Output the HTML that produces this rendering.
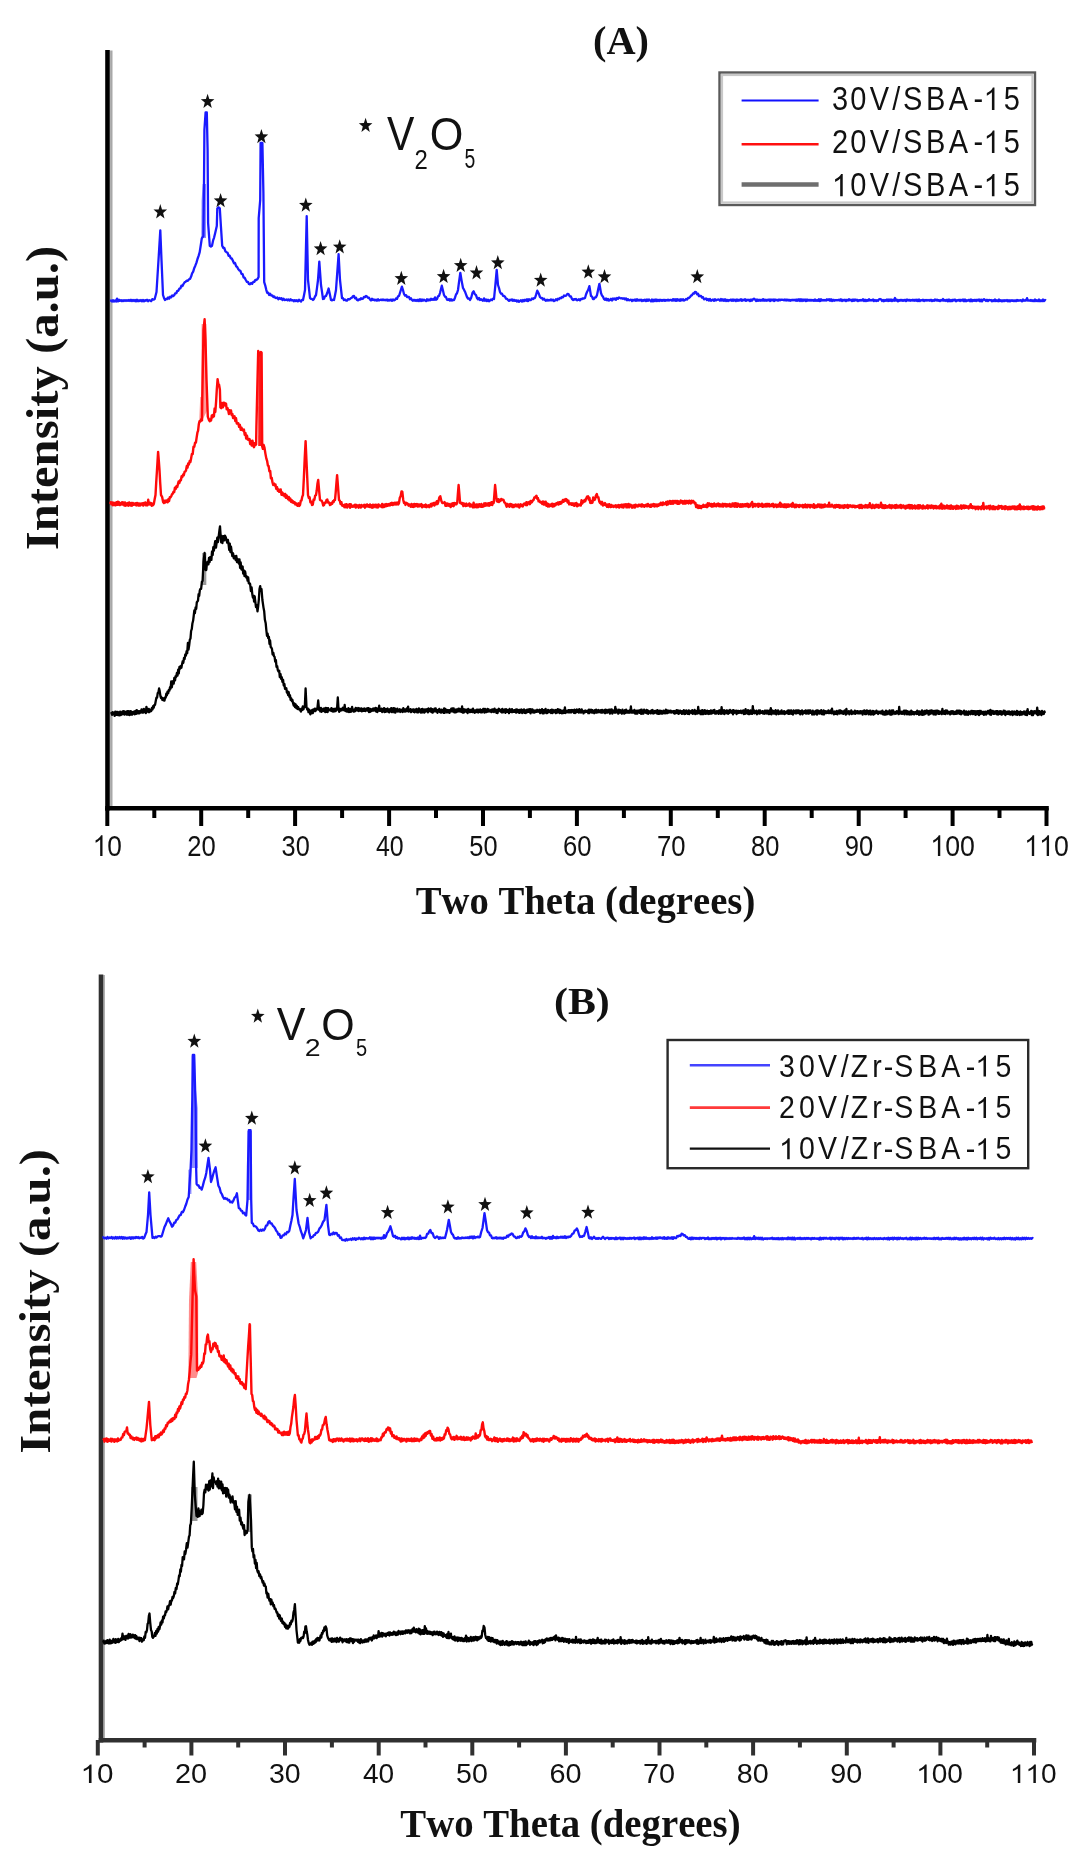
<!DOCTYPE html>
<html><head><meta charset="utf-8"><title>XRD patterns</title>
<style>
html,body{margin:0;padding:0;background:#fff;}
body{width:1078px;height:1866px;overflow:hidden;}
svg{display:block;filter:blur(0.45px);}
text{font-kerning:none;font-feature-settings:"kern" 0,"liga" 0;}
.sans{font-family:"Liberation Sans",sans-serif;}
.serif{font-family:"Liberation Serif",serif;font-weight:bold;}
</style></head><body>
<svg width="1078" height="1866" viewBox="0 0 1078 1866">
<rect width="1078" height="1866" fill="#fff"/>

<line x1="111.3" y1="50.5" x2="111.3" y2="806" stroke="#a8a8a8" stroke-width="2.4"/>
<line x1="104.1" y1="975" x2="104.1" y2="1738" stroke="#b0b0b0" stroke-width="1.8"/>
<g fill="none" stroke="#000" stroke-linecap="butt">
<line x1="107.5" y1="50" x2="107.5" y2="810.4" stroke-width="4.6"/>
<line x1="105.2" y1="808.2" x2="1048.8" y2="808.2" stroke-width="4.4"/>
<line x1="107.3" y1="808" x2="107.3" y2="826" stroke-width="4.0"/>
<line x1="154.3" y1="808" x2="154.3" y2="818" stroke-width="4.0"/>
<line x1="201.2" y1="808" x2="201.2" y2="826" stroke-width="4.0"/>
<line x1="248.2" y1="808" x2="248.2" y2="818" stroke-width="4.0"/>
<line x1="295.1" y1="808" x2="295.1" y2="826" stroke-width="4.0"/>
<line x1="342.1" y1="808" x2="342.1" y2="818" stroke-width="4.0"/>
<line x1="389.1" y1="808" x2="389.1" y2="826" stroke-width="4.0"/>
<line x1="436" y1="808" x2="436" y2="818" stroke-width="4.0"/>
<line x1="483" y1="808" x2="483" y2="826" stroke-width="4.0"/>
<line x1="529.9" y1="808" x2="529.9" y2="818" stroke-width="4.0"/>
<line x1="576.9" y1="808" x2="576.9" y2="826" stroke-width="4.0"/>
<line x1="623.9" y1="808" x2="623.9" y2="818" stroke-width="4.0"/>
<line x1="670.8" y1="808" x2="670.8" y2="826" stroke-width="4.0"/>
<line x1="717.8" y1="808" x2="717.8" y2="818" stroke-width="4.0"/>
<line x1="764.7" y1="808" x2="764.7" y2="826" stroke-width="4.0"/>
<line x1="811.7" y1="808" x2="811.7" y2="818" stroke-width="4.0"/>
<line x1="858.7" y1="808" x2="858.7" y2="826" stroke-width="4.0"/>
<line x1="905.6" y1="808" x2="905.6" y2="818" stroke-width="4.0"/>
<line x1="952.6" y1="808" x2="952.6" y2="826" stroke-width="4.0"/>
<line x1="999.5" y1="808" x2="999.5" y2="818" stroke-width="4.0"/>
<line x1="1046.5" y1="808" x2="1046.5" y2="826" stroke-width="4.0"/>
</g>
<g fill="#111">
<g transform="translate(92.70,855.91) scale(0.2628,0.2994)"><text class="sans" font-size="100" x="55.62" y="0">0</text><path d="M37.30,-0.00 37.30,-69.00 31.80,-69.00 29.20,-65.00 24.50,-60.30 18.50,-56.00 11.00,-52.30 11.00,-44.00 17.00,-46.80 23.20,-50.50 28.50,-54.50 28.50,-0.00Z"/></g>
<g transform="translate(187.33,855.91) scale(0.2561,0.2994)"><text class="sans" font-size="100" x="0.00 55.62" y="0">20</text></g>
<g transform="translate(281.58,855.91) scale(0.2531,0.2994)"><text class="sans" font-size="100" x="0.00 55.62" y="0">30</text></g>
<g transform="translate(375.89,855.91) scale(0.2495,0.2994)"><text class="sans" font-size="100" x="0.00 55.62" y="0">40</text></g>
<g transform="translate(469.36,855.91) scale(0.2536,0.2994)"><text class="sans" font-size="100" x="0.00 55.62" y="0">50</text></g>
<g transform="translate(563.00,855.91) scale(0.2562,0.2994)"><text class="sans" font-size="100" x="0.00 55.62" y="0">60</text></g>
<g transform="translate(656.91,855.91) scale(0.2564,0.2994)"><text class="sans" font-size="100" x="0.00 55.62" y="0">70</text></g>
<g transform="translate(751.03,855.91) scale(0.2544,0.2994)"><text class="sans" font-size="100" x="0.00 55.62" y="0">80</text></g>
<g transform="translate(844.86,855.91) scale(0.2553,0.2994)"><text class="sans" font-size="100" x="0.00 55.62" y="0">90</text></g>
<g transform="translate(930.29,855.91) scale(0.2672,0.2994)"><text class="sans" font-size="100" x="55.62 111.23" y="0">00</text><path d="M37.30,-0.00 37.30,-69.00 31.80,-69.00 29.20,-65.00 24.50,-60.30 18.50,-56.00 11.00,-52.30 11.00,-44.00 17.00,-46.80 23.20,-50.50 28.50,-54.50 28.50,-0.00Z"/></g>
<g transform="translate(1024.21,855.91) scale(0.2672,0.2994)"><text class="sans" font-size="100" x="111.23" y="0">0</text><path d="M37.30,-0.00 37.30,-69.00 31.80,-69.00 29.20,-65.00 24.50,-60.30 18.50,-56.00 11.00,-52.30 11.00,-44.00 17.00,-46.80 23.20,-50.50 28.50,-54.50 28.50,-0.00Z"/><path d="M92.92,-0.00 92.92,-69.00 87.42,-69.00 84.82,-65.00 80.12,-60.30 74.12,-56.00 66.62,-52.30 66.62,-44.00 72.62,-46.80 78.82,-50.50 84.12,-54.50 84.12,-0.00Z"/></g>
</g>
<g fill="none" stroke="#303030" stroke-linecap="butt">
<line x1="101" y1="974.5" x2="101" y2="1742.4" stroke-width="4.6"/>
<line x1="98.7" y1="1740.2" x2="1036.3" y2="1740.2" stroke-width="4.4"/>
<line x1="97.8" y1="1740" x2="97.8" y2="1755.5" stroke-width="4.0"/>
<line x1="144.6" y1="1740" x2="144.6" y2="1747.5" stroke-width="4.0"/>
<line x1="191.4" y1="1740" x2="191.4" y2="1755.5" stroke-width="4.0"/>
<line x1="238.2" y1="1740" x2="238.2" y2="1747.5" stroke-width="4.0"/>
<line x1="285" y1="1740" x2="285" y2="1755.5" stroke-width="4.0"/>
<line x1="331.9" y1="1740" x2="331.9" y2="1747.5" stroke-width="4.0"/>
<line x1="378.7" y1="1740" x2="378.7" y2="1755.5" stroke-width="4.0"/>
<line x1="425.5" y1="1740" x2="425.5" y2="1747.5" stroke-width="4.0"/>
<line x1="472.3" y1="1740" x2="472.3" y2="1755.5" stroke-width="4.0"/>
<line x1="519.1" y1="1740" x2="519.1" y2="1747.5" stroke-width="4.0"/>
<line x1="565.9" y1="1740" x2="565.9" y2="1755.5" stroke-width="4.0"/>
<line x1="612.7" y1="1740" x2="612.7" y2="1747.5" stroke-width="4.0"/>
<line x1="659.5" y1="1740" x2="659.5" y2="1755.5" stroke-width="4.0"/>
<line x1="706.3" y1="1740" x2="706.3" y2="1747.5" stroke-width="4.0"/>
<line x1="753.1" y1="1740" x2="753.1" y2="1755.5" stroke-width="4.0"/>
<line x1="799.9" y1="1740" x2="799.9" y2="1747.5" stroke-width="4.0"/>
<line x1="846.8" y1="1740" x2="846.8" y2="1755.5" stroke-width="4.0"/>
<line x1="893.6" y1="1740" x2="893.6" y2="1747.5" stroke-width="4.0"/>
<line x1="940.4" y1="1740" x2="940.4" y2="1755.5" stroke-width="4.0"/>
<line x1="987.2" y1="1740" x2="987.2" y2="1747.5" stroke-width="4.0"/>
<line x1="1034" y1="1740" x2="1034" y2="1755.5" stroke-width="4.0"/>
</g>
<g fill="#111">
<g transform="translate(80.50,1783.04) scale(0.2959,0.2684)"><text class="sans" font-size="100" x="55.62" y="0">0</text><path d="M37.30,-0.00 37.30,-69.00 31.80,-69.00 29.20,-65.00 24.50,-60.30 18.50,-56.00 11.00,-52.30 11.00,-44.00 17.00,-46.80 23.20,-50.50 28.50,-54.50 28.50,-0.00Z"/></g>
<g transform="translate(174.92,1783.04) scale(0.2884,0.2684)"><text class="sans" font-size="100" x="0.00 55.62" y="0">20</text></g>
<g transform="translate(268.90,1783.04) scale(0.2850,0.2684)"><text class="sans" font-size="100" x="0.00 55.62" y="0">30</text></g>
<g transform="translate(362.97,1783.04) scale(0.2809,0.2684)"><text class="sans" font-size="100" x="0.00 55.62" y="0">40</text></g>
<g transform="translate(456.09,1783.04) scale(0.2855,0.2684)"><text class="sans" font-size="100" x="0.00 55.62" y="0">50</text></g>
<g transform="translate(549.38,1783.04) scale(0.2885,0.2684)"><text class="sans" font-size="100" x="0.00 55.62" y="0">60</text></g>
<g transform="translate(642.99,1783.04) scale(0.2887,0.2684)"><text class="sans" font-size="100" x="0.00 55.62" y="0">70</text></g>
<g transform="translate(736.85,1783.04) scale(0.2865,0.2684)"><text class="sans" font-size="100" x="0.00 55.62" y="0">80</text></g>
<g transform="translate(830.36,1783.04) scale(0.2874,0.2684)"><text class="sans" font-size="100" x="0.00 55.62" y="0">90</text></g>
<g transform="translate(916.20,1783.04) scale(0.2801,0.2684)"><text class="sans" font-size="100" x="55.62 111.23" y="0">00</text><path d="M37.30,-0.00 37.30,-69.00 31.80,-69.00 29.20,-65.00 24.50,-60.30 18.50,-56.00 11.00,-52.30 11.00,-44.00 17.00,-46.80 23.20,-50.50 28.50,-54.50 28.50,-0.00Z"/></g>
<g transform="translate(1009.82,1783.04) scale(0.2801,0.2684)"><text class="sans" font-size="100" x="111.23" y="0">0</text><path d="M37.30,-0.00 37.30,-69.00 31.80,-69.00 29.20,-65.00 24.50,-60.30 18.50,-56.00 11.00,-52.30 11.00,-44.00 17.00,-46.80 23.20,-50.50 28.50,-54.50 28.50,-0.00Z"/><path d="M92.92,-0.00 92.92,-69.00 87.42,-69.00 84.82,-65.00 80.12,-60.30 74.12,-56.00 66.62,-52.30 66.62,-44.00 72.62,-46.80 78.82,-50.50 84.12,-54.50 84.12,-0.00Z"/></g>
</g>
<g fill="#111">
<text class="serif" font-size="100" transform="translate(415.70,914.00) scale(0.3870,0.4093)">Two Theta (degrees)</text>
<text class="serif" font-size="100" transform="translate(400.29,1837.40) scale(0.3879,0.4032)">Two Theta (degrees)</text>
<text class="serif" font-size="100" transform="translate(58.00,550.24) rotate(-90) scale(0.4870,0.4551)">Intensity (a.u.)</text>
<text class="serif" font-size="100" transform="translate(50.10,1453.64) rotate(-90) scale(0.4876,0.4536)">Intensity (a.u.)</text>
<text class="serif" font-size="100" transform="translate(593.03,53.60) scale(0.4030,0.3954)">(A)</text>
<text class="serif" font-size="100" transform="translate(553.96,1014.09) scale(0.4192,0.3710)">(B)</text>
</g>
<rect x="719.5" y="72.5" width="315.5" height="132.5" fill="#fff" stroke="#5a5a5a" stroke-width="2.4"/>
<rect x="722.0" y="75.0" width="310.5" height="127.5" fill="none" stroke="#c8c8c8" stroke-width="2.2"/>
<line x1="741.6" y1="100.5" x2="818.6" y2="100.5" stroke="#1010ff" stroke-width="2.2"/>
<line x1="741.6" y1="144.3" x2="818.6" y2="144.3" stroke="#ff1010" stroke-width="2.4"/>
<line x1="741.6" y1="184.5" x2="818.6" y2="184.5" stroke="#6e6e6e" stroke-width="4.4"/>
<g fill="#111">
<g transform="translate(0,110.00) scale(0.2900,0.3250)"><text class="sans" font-size="100" x="2868.69 2932.19 2999.06 3076.80 3114.26 3193.46 3271.82 3357.14 3461.26" y="0">30V/SBA-5</text><path d="M3429.16,-0.00 3429.16,-69.00 3423.66,-69.00 3421.06,-65.00 3416.36,-60.30 3410.36,-56.00 3402.86,-52.30 3402.86,-44.00 3408.86,-46.80 3415.06,-50.50 3420.36,-54.50 3420.36,-0.00Z"/></g>
<g transform="translate(0,153.00) scale(0.2900,0.3250)"><text class="sans" font-size="100" x="2868.69 2932.19 2999.06 3076.80 3114.26 3193.46 3271.82 3357.14 3461.26" y="0">20V/SBA-5</text><path d="M3429.16,-0.00 3429.16,-69.00 3423.66,-69.00 3421.06,-65.00 3416.36,-60.30 3410.36,-56.00 3402.86,-52.30 3402.86,-44.00 3408.86,-46.80 3415.06,-50.50 3420.36,-54.50 3420.36,-0.00Z"/></g>
<g transform="translate(0,196.30) scale(0.2900,0.3250)"><text class="sans" font-size="100" x="2932.19 2999.06 3076.80 3114.26 3193.46 3271.82 3357.14 3461.26" y="0">0V/SBA-5</text><path d="M2905.99,-0.00 2905.99,-69.00 2900.49,-69.00 2897.89,-65.00 2893.19,-60.30 2887.19,-56.00 2879.69,-52.30 2879.69,-44.00 2885.69,-46.80 2891.89,-50.50 2897.19,-54.50 2897.19,-0.00Z"/><path d="M3429.16,-0.00 3429.16,-69.00 3423.66,-69.00 3421.06,-65.00 3416.36,-60.30 3410.36,-56.00 3402.86,-52.30 3402.86,-44.00 3408.86,-46.80 3415.06,-50.50 3420.36,-54.50 3420.36,-0.00Z"/></g>
</g>
<rect x="667.6" y="1040.0" width="360.6" height="128.2" fill="#fff" stroke="#2a2a2a" stroke-width="2.4"/>
<line x1="689.8" y1="1065.2" x2="770" y2="1065.2" stroke="#4444ff" stroke-width="2.4"/>
<line x1="689.8" y1="1107.6" x2="770" y2="1107.6" stroke="#ff3a3a" stroke-width="2.6"/>
<line x1="689.8" y1="1148.6" x2="770" y2="1148.6" stroke="#111" stroke-width="2.2"/>
<g fill="#111">
<g transform="translate(0,1076.50) scale(0.2850,0.3050)"><text class="sans" font-size="100" x="2733.54 2803.42 2870.16 2949.62 2985.22 3060.86 3100.89 3137.90 3222.03 3302.44 3388.61 3492.99" y="0">30V/Zr-SBA-5</text><path d="M3459.70,-0.00 3459.70,-69.00 3454.20,-69.00 3451.60,-65.00 3446.90,-60.30 3440.90,-56.00 3433.40,-52.30 3433.40,-44.00 3439.40,-46.80 3445.60,-50.50 3450.90,-54.50 3450.90,-0.00Z"/></g>
<g transform="translate(0,1118.10) scale(0.2850,0.3050)"><text class="sans" font-size="100" x="2733.54 2803.42 2870.16 2949.62 2985.22 3060.86 3100.89 3137.90 3222.03 3302.44 3388.61 3492.99" y="0">20V/Zr-SBA-5</text><path d="M3459.70,-0.00 3459.70,-69.00 3454.20,-69.00 3451.60,-65.00 3446.90,-60.30 3440.90,-56.00 3433.40,-52.30 3433.40,-44.00 3439.40,-46.80 3445.60,-50.50 3450.90,-54.50 3450.90,-0.00Z"/></g>
<g transform="translate(0,1159.30) scale(0.2850,0.3050)"><text class="sans" font-size="100" x="2803.42 2870.16 2949.62 2985.22 3060.86 3100.89 3137.90 3222.03 3302.44 3388.61 3492.99" y="0">0V/Zr-SBA-5</text><path d="M2770.84,-0.00 2770.84,-69.00 2765.34,-69.00 2762.74,-65.00 2758.04,-60.30 2752.04,-56.00 2744.54,-52.30 2744.54,-44.00 2750.54,-46.80 2756.74,-50.50 2762.04,-54.50 2762.04,-0.00Z"/><path d="M3459.70,-0.00 3459.70,-69.00 3454.20,-69.00 3451.60,-65.00 3446.90,-60.30 3440.90,-56.00 3433.40,-52.30 3433.40,-44.00 3439.40,-46.80 3445.60,-50.50 3450.90,-54.50 3450.90,-0.00Z"/></g>
</g>
<g fill="#111">
<text class="sans" font-size="100" transform="translate(387.02,150.10) scale(0.4102,0.4738)">V</text>
<text class="sans" font-size="100" transform="translate(414.40,168.70) scale(0.2393,0.2821)">2</text>
<text class="sans" font-size="100" transform="translate(429.65,149.65) scale(0.4322,0.4562)">O</text>
<text class="sans" font-size="100" transform="translate(464.52,168.13) scale(0.1940,0.2780)">5</text>
<text class="sans" font-size="100" transform="translate(276.81,1040.10) scale(0.4300,0.4622)">V</text>
<text class="sans" font-size="100" transform="translate(304.76,1056.20) scale(0.2854,0.2392)">2</text>
<text class="sans" font-size="100" transform="translate(321.27,1039.66) scale(0.4292,0.4491)">O</text>
<text class="sans" font-size="100" transform="translate(355.90,1055.97) scale(0.2004,0.2393)">5</text>
</g>
<polygon points="201.3,238 201.6,200 202.6,184 206,184 206,238" fill="#8c8cff"/>
<path d="M110,300.8 111,300.5 112,301.6 113,300.2 114,301.5 115,300.5 116,301.6 117,298.6 118,301.5 119,299.8 120,300.9 121,300.1 122,301.2 123,300.2 124,301 125,300.1 126,301 127,300.1 128,300.8 129,300 130,301 131,299.8 132,301.1 133,299.9 134,301.1 135,299.9 136,301.3 137,299.7 138,301.2 139,300.2 140,301.1 141,300 142,301.3 143,300 144,301.4 145,300.1 146,300.7 147,299.8 148,301.2 149,300.2 150,300.5 151.2,301.1 152.3,299.1 153.5,299.7 154.7,299 156.5,292 157.5,275.9 158.5,260 160.3,230.3 161.5,260 163,295 164,297.9 165,300 166,298.8 167,299.1 168.1,297.5 169.1,298.7 170.1,296.7 171.1,297.3 172.2,295.4 173.2,296.1 174.2,295.2 175.2,293.4 176.3,293.2 177.3,290.8 178.3,290.8 179.4,288.6 180.4,288.4 181.4,285.6 182.5,286.1 183.5,284 184.6,282.3 185.7,281.7 186.8,280.7 187.8,280.9 188.9,279.4 190,279 191.1,276.6 192.1,273.4 193.2,271.6 194.3,267.9 195.3,265.7 196.4,262.9 197.5,259 198.6,255.9 199.7,252.2 200.8,245 201.8,238.3 203.4,236 204,184 204.4,130 205.6,112.3 206.8,112.5 207.6,150 208.1,223 209.8,245.8 210.9,246.6 212,245.8 213.1,240.4 214.1,237.6 215.2,232.9 216.8,226 217.3,208.3 218.6,207.3 219.8,208.3 220.9,226 222.2,245.8 223.3,248.1 224.3,247.9 225.4,251.3 226.5,252.2 227.6,252.8 228.6,255.8 229.7,255.7 230.8,258.4 231.8,258.4 232.9,260.8 234,263.4 235,262.9 236.1,266.2 237.2,267 238.2,269 239.3,270.4 240.4,270.9 241.5,273.9 242.6,274.1 243.6,277.4 244.7,277.9 245.8,280 246.9,281.8 247.9,281.8 248.9,284 250,284.3 251.1,283 252.2,283.8 253.2,282 254.3,281.9 255.4,279.9 256.5,280 257.6,278.9 258.6,277 258.7,218 260.2,200 260.6,143 262.4,143 263.4,193.2 264.2,282.2 265.2,285.3 266.2,289.6 267.2,292.9 268.2,292.7 269.2,295 270.2,293.8 271.2,295.5 272.3,295.4 273.3,297 274.3,296.4 275.3,297.8 276.3,298 277.3,297.5 278.3,299.3 279.4,298 280.4,299 281.4,298.1 282.4,300.1 283.5,298.7 284.5,300.1 285.5,299.8 286.5,299.5 287.6,300.3 288.6,299.4 289.6,300.6 290.7,299.3 291.7,300.4 292.8,300.1 293.8,301.3 294.8,300.1 295.9,301 296.9,300.3 297.9,301.4 299,299.8 300,300.8 301,301.5 302,299.9 303,300 304,295.2 305,290 306.7,216.2 308,280 309,288.8 310,298 311,298.8 312,298.9 313,300 314,298.9 315,296.5 316,295 317,287.8 318,280 319.3,261.6 321,285 322,291.9 323,299 324,298.7 325,296.4 326,296 327.3,292.8 328.6,288.5 329.8,294 331,300 332,300.4 333,299.6 334,300 335,295.2 336,290 337.3,272 338.6,254.2 340,280 341,289.1 342,298 343,298.2 344,300.1 345,299.5 346,300.5 347,300.7 348,299.1 349,299.5 350,299 351,298 352,297.7 353,296.1 354,296 355,298.2 356,297.8 357,300 358,300.4 359,299.4 360,299.7 361,298.2 362,299 363,298.7 364,296.9 365,297.2 366,296 367,296.6 368,297.9 369,297.7 370,299.5 371,300.5 372,298.8 373,300 374,299.4 375,300.5 376,299.6 377,300.7 378,299.3 379,300.5 380,300 381,299.6 382,300.2 383,299.5 384,300.2 385,299.7 386,300.4 387,299.5 388,300.7 389,299.8 390,300.6 391,299.5 392,300.8 393,299.4 394,300.3 395,300 396,298.4 397,298.9 398,296.3 399,296 400.4,291.5 401.9,286.7 402.9,289.8 404,294 405,295.6 406,295.1 407,297.1 408,297 409,297 410,299.2 411,298.3 412,300 413,300.7 414,299.7 415,300.8 416,300 417,301 418,299.6 419,301 420,299.3 421,301 422,299.5 423,300.7 424,299.6 425,300.5 426,301.1 427,299.3 428,300.6 429,299.5 430,300.3 431,298.8 432,299.9 433,299 434,299.8 435,297.4 436,299.7 437,299 438,296.3 439,295.9 440,293 441.8,285.7 442.9,290.2 444,295 445,296.6 446,297.1 447,299.6 448,300 449,299 450,300.6 451,299.2 452,300.5 453,299.8 454,300 455,297.7 456,294.5 457,293.2 458,290 459.1,281.3 460.3,272.8 461.6,280.6 463,288 464,289.7 465,291.7 466,294.3 467,297 468,298.5 469,298.3 470,300 471.2,297.7 472.5,292.8 473.7,291.3 474.8,294.2 475.9,294.9 477,298 478,299.4 479,297.9 480,300 481,299.2 482,300 483,300.7 484,298.4 485,300.7 486,299.4 487,301.1 488,299.6 489,301.2 490,300.5 491,299.4 492,300.2 493,298.7 494,299 495.4,284.6 496.7,269.9 498,285 499,288 500,292 501,293.7 502,293.6 503,295.9 504,296 505,296.7 506,298.6 507,298.8 508,300 509,300.9 510,299.7 511,300.4 512,299.4 513,300.9 514,299.8 515,300.9 516,300.3 517,301.6 518,300.4 519,301.7 520,301 521,300.2 522,301.6 523,300 524,301.2 525,299.7 526,300.8 527,299.3 528,301.1 529,299.2 530,300 531,300 532,298.4 533,299.1 534,298.1 535,298 536.1,294.7 537.3,290.7 538.6,293.2 540,297 541,298 542,297.9 543,299.6 544,298.6 545,300 546,300.8 547,299.7 548,300.6 549,300 550,300.4 551,299.4 552,300.5 553,299.6 554,301.1 555,300.5 556,299.2 557,300.3 558,298.7 559,299.2 560,297.9 561,298.3 562,297 563,297.3 564,295.5 565,296 566.2,295.6 567.4,293.9 568.6,294.2 569.7,296.3 570.9,296.5 572,299 573,300.1 574,299.1 575,299.7 576,298.9 577,300.3 578,300 579,299.2 580,300.4 581,298.9 582,299 583,298.3 584,298.5 585,298 586,294.5 587,292 588.2,289.8 589.4,286.1 591,296 592,296.5 593,299 594,299 595,297.3 596,297.3 597,295 598.2,289.2 599.4,283.8 601,293 602,295.6 603,296.8 604,299 605,299.7 606,298.4 607,300.2 608,298.9 609,300.6 610,300 611,298.8 612,300.5 613,298.5 614,299.4 615,298.4 616,299.8 617,298 618,298.7 619,297.4 620,298 621,298.4 622,298.2 623,298.8 624,298.3 625,299.4 626,298.4 627,300.3 628,299.1 629,300.4 630,300 631,299.6 632,301 633,299.8 634,300.6 635,299.4 636,300.9 637,299.3 638,300.6 639,299.8 640,300.5 641,299.6 642,301.1 643,299.9 644,300.8 645,299.6 646,301 647,299.5 648,300.9 649,299.5 650,300.5 651,301.4 652,299.5 653,301.4 654,299.6 655,301 656,299.4 657,301.1 658,299.8 659,301 660,299.7 661,300.8 662,299.9 663,300.8 664,299.8 665,300.9 666,299.9 667,300.5 668,299.7 669,300.6 670,300 671,299.8 672,300.7 673,299.1 674,300.5 675,299.2 676,300.9 677,299.1 678,300.5 679,299.4 680,300.8 681,299.2 682,300.4 683,299.2 684,300.6 685,300 686,298.9 687,299.6 688,298 689,298.1 690,297 691,295.6 692,295.1 693,293.5 694,293.7 695,291.9 696,292.1 697,294.2 698,293.7 699,296.2 700,296 701,295.9 702,297.6 703,297.1 704,299.4 705,299 706,298.4 707,300.1 708,299 709,300.5 710,299 711,300.8 712,300 713,299.5 714,300.8 715,299.2 716,300.4 717,299.8 718,299.5 719,299.6 720,300.7 721,299 722,300.6 723,299.3 724,300.8 725,299.3 726,301 727,299.8 728,301 729,299.9 730,300.6 731,299.5 732,300.9 733,299.4 734,300.7 735,299.6 736,301 737,299.4 738,300.8 739,299.7 740,300.6 741,299.2 742,300.8 743,299.6 744,300.4 745,299.1 746,300.9 747,299.6 748,300.4 749,299.6 750,301.1 751,299.5 752,300.7 753,299.3 754,298.6 755,299.4 756,301 757,299.5 758,300.9 759,299.7 760,300.8 761,299.8 762,300.7 763,299.1 764,300.7 765,299.6 766,300.8 767,299.7 768,300.6 769,299.4 770,301 771,299.5 772,300.5 773,299.4 774,301 775,299.5 776,300.4 777,299.7 778,300.7 779,299.5 780,300.4 781,299.5 782,299.8 783,299.7 784,300.3 785,299.4 786,300.6 787,299.5 788,300.5 789,299.8 790,300.8 791,299.9 792,300.4 793,299.7 794,300.3 795,299.6 796,300.8 797,299.4 798,300.7 799,299.2 800,301 801,299.3 802,301 803,299.4 804,300.7 805,299.5 806,301.1 807,299.5 808,300.7 809,299.8 810,300.8 811,299.8 812,300.7 813,299.9 814,300.9 815,299.5 816,300.9 817,300 818,300.9 819,299.2 820,301.1 821,299.3 822,300.6 823,299.9 824,300.6 825,299.9 826,300.6 827,299.3 828,300.3 829,299.2 830,300.7 831,299.3 832,301 833,299.7 834,300.7 835,300 836,300.4 837,300 838,300.4 839,299.6 840,300.6 841,299.3 842,301 843,299.8 844,300.6 845,299.7 846,301 847,299.8 848,300.6 849,299.2 850,300.4 851,299.7 852,301.1 853,299.5 854,300.8 855,299.5 856,300.5 857,299.7 858,301 859,300.1 860,300.7 861,299.9 862,300.5 863,299.2 864,301 865,299.7 866,301 867,299.9 868,300.8 869,299.3 870,300.5 871,300 872,300.5 873,299.4 874,301.1 875,300 876,301.1 877,300.1 878,300.9 879,299.3 880,299 881,299.3 882,301 883,299.9 884,301.2 885,300 886,300.8 887,299.4 888,301 889,299.5 890,300.9 891,299.5 892,301 893,299.6 894,300.8 895,298 896,300.7 897,299.8 898,301.3 899,299.9 900,300.8 901,299.8 902,300.8 903,300 904,300.7 905,299.7 906,301.1 907,299.5 908,300.6 909,299.8 910,300.8 911,300 912,300.6 913,299.7 914,300.8 915,299.7 916,300.8 917,299.6 918,301.1 919,299.5 920,301 921,300.1 922,300.5 923,299.8 924,301 925,299.9 926,300.7 927,299.9 928,300.5 929,300 930,300.7 931,299.7 932,301.1 933,300.1 934,300.8 935,299.4 936,300.6 937,299.6 938,300.7 939,300.1 940,301.1 941,299.9 942,300.6 943,299 944,300.7 945,299.9 946,301 947,299.7 948,301.3 949,299.5 950,301.2 951,300 952,301.2 953,299.7 954,300.6 955,299.5 956,301.3 957,300.1 958,300.6 959,299.8 960,301 961,299.8 962,300.7 963,299.5 964,301.2 965,299.5 966,301.2 967,300.1 968,300.8 969,299.8 970,301.2 971,299.4 972,301.3 973,299.9 974,300.9 975,299.8 976,301 977,299.7 978,300.7 979,299.5 980,301.3 981,299.6 982,301.4 983,299.8 984,299.2 985,300 986,301 987,299.8 988,301.1 989,299.9 990,300.3 991,300 992,301.3 993,300.2 994,301 995,299.4 996,301.1 997,300.2 998,301.3 999,299.5 1000,301.1 1001,300.2 1002,301.4 1003,300.2 1004,301.2 1005,300.1 1006,301 1007,300 1008,301.4 1009,300.2 1010,301.4 1011,300.2 1012,300.9 1013,300.3 1014,301.2 1015,300.3 1016,301.2 1017,299.9 1018,300.8 1019,300.2 1020,300.7 1021,300.1 1022,301.4 1023,299.5 1024,300.8 1025,300.3 1026,300.6 1027,298.1 1028,300.7 1029,300.3 1030,300.8 1031,299.9 1032,301 1033,300.2 1034,301.2 1035,299.5 1036,301 1037,300.3 1038,301.2 1039,299.5 1040,301.2 1041,300.3 1042,301.2 1043,299.5 1044,301.1 1045,299.9 1046,300.5" fill="none" stroke="#1a1aff" stroke-width="2.3" stroke-linejoin="round" opacity="1.0"/>
<polygon points="199.2,421 200.2,397 201.3,397 201.6,324 206.4,324 206.9,380 207.4,410 203,419 202.3,421" fill="#ff9a9a"/>
<polygon points="258.2,446 258.4,353 261.6,353 261.9,446" fill="#ff1a1a"/>
<path d="M110,503.9 110.7,502.2 111.4,504.3 112.1,502.4 112.9,505.2 113.6,502.7 114.3,505.1 115,503 115.7,505.3 116.4,502.2 117.1,504.9 117.9,501.6 118.6,504.7 119.3,502.3 120,505.1 120.7,503.6 121.4,504.4 122.1,502.2 122.9,504.5 123.6,502.5 124.3,505.6 125,502.5 125.7,505.7 126.4,503.5 127.1,505.3 127.9,502.9 128.6,505.7 129.3,502.5 130,504 130.7,505.6 131.4,503 132.1,505.7 132.8,503 133.5,504.8 134.2,503.5 134.9,504.7 135.6,503.3 136.3,505.4 137,502.9 137.7,505.2 138.4,503.4 139.1,505.7 139.8,503.6 140.5,505.4 141.2,503.4 141.9,504.4 142.6,503.3 143.3,505.6 144,502.9 144.7,504.6 145.4,502.4 146.1,505.4 146.8,503.2 147.5,505.3 148.2,499.8 148.9,504.3 149.6,502.5 150.3,504.6 151,503.1 151.7,505.8 152.4,503.7 153.1,505.2 153.8,504 154.7,499 155.5,495 156.2,482.6 157,470 158.1,451.9 158.8,460.4 159.5,470 160.2,482.9 161,495 162.1,496.8 163.1,502 163.9,503 164.7,500.7 165.4,502.4 166.2,500.4 167,502 167.7,502.3 168.4,499.1 169.1,501 169.8,497.1 170.5,497.4 171.2,496.4 172,494.3 172.7,493.8 173.5,491.7 174.2,492.1 174.9,487.7 175.7,489 176.4,486.3 177.2,487.1 177.9,484.4 178.6,481.5 179.4,482.9 180.1,480.2 180.9,480.3 181.6,476.2 182.3,477.1 183.1,474.5 183.8,475.3 184.6,471.8 185.3,471.4 186,470.5 186.8,465.9 187.5,467.7 188.2,463.4 188.9,464.5 189.7,460.9 190.4,462 191.1,458.4 191.9,453.9 192.7,454 193.5,446.7 194.3,446.7 195.1,442.6 195.9,442.5 196.7,437.1 197.4,432.7 198.1,430.6 198.8,424.3 199.5,421.3 200.3,421.6 201.2,419.3 202,420.4 202.3,397.2 203.5,330 204.6,319.3 205.5,340 206.5,379.6 207.8,416.7 208.8,419.6 209.7,421.3 210.4,419.2 211.1,420.4 211.8,415.4 212.5,417.4 213.2,414.8 213.9,416.4 214.6,408.5 215.3,412 216.1,401.7 216.8,389.6 217.6,379.1 218.4,384.5 219.1,384.9 219.9,389.8 220.4,407.4 221.2,408.2 222,402.9 222.9,407.4 223.7,402.6 224.5,402.8 225.2,405.5 226,403.5 226.7,409.3 227.5,408 228.2,410.2 228.9,414.1 229.6,410.3 230.3,413.3 231,410.4 231.7,415.1 232.4,414 233.1,418.1 233.8,416.7 234.5,416.2 235.3,421.1 236,418.2 236.8,423.6 237.5,423.2 238.3,423.2 239.1,426.9 239.9,424.9 240.7,429.8 241.5,427.7 242.3,430 243.1,430.6 243.9,429.4 244.7,434.9 245.5,433.2 246.2,438.5 247,435.7 247.8,439.7 248.6,439.9 249.4,438.9 250.2,444.1 250.9,440.8 251.7,445.5 252.5,440.6 253.3,445.4 254,447.2 254.7,443.1 255.4,445.2 256.1,444.5 256.4,427 257.3,388.8 258.2,351 259.1,355.6 260,353 260.8,351.9 261.6,352.7 262.2,446.4 262.9,448.8 263.7,445 264.4,447.3 265.4,453.6 266.3,458.4 267.1,460.8 267.9,465.6 268.6,466 269.4,471.2 270.2,470.9 270.9,478.4 271.7,477.8 272.5,482.5 273.2,484.9 274,483.6 274.8,485.6 275.5,484.6 276.2,488.8 277,487.1 277.8,490.7 278.5,489.4 279.2,491.8 280,491.8 280.7,489.4 281.5,494.8 282.2,492.3 283,495.1 283.7,493.8 284.4,496.2 285.2,493.9 285.9,497.9 286.7,495.5 287.4,497.4 288.1,499.3 288.8,496.9 289.5,500.4 290.3,498.6 291,501.8 291.7,500.1 292.4,502.4 293.1,501.2 293.8,503 294.6,502.2 295.3,504.4 296,503.3 296.7,504.8 297.5,505.8 298.4,503.3 299.2,505.9 300,505 300.8,500.8 301.5,500.4 302.2,496.9 303,495 303.9,477.2 304.7,458.7 305.6,441.1 306.4,459.4 307.2,476.9 308,495 308.8,497.8 309.6,497.2 310.4,502.4 311.2,501.6 312,505 312.8,504.6 313.6,499.5 314.4,499.7 315.2,495.6 316,495 316.7,490.8 317.5,483.4 318.2,480 319.1,490.4 320,500 320.8,500.4 321.6,500.6 322.4,502.2 323.2,505.6 324,505 324.8,502.7 325.6,502.9 326.5,500 327.3,499.5 328.2,502.6 329.1,502.4 330,505 330.7,504.7 331.4,503 332.1,503.8 332.9,501.3 333.6,502.1 334.3,499.9 335,500 335.7,492.3 336.4,483.3 337.1,475.2 338.1,487.9 339,500 339.8,500.7 340.6,504 341.4,502.2 342.2,505.7 343,506 343.7,505.1 344.4,507.2 345.1,504.4 345.8,507.2 346.5,504.2 347.2,507.6 348,505.1 348.7,506.3 349.4,504.2 350.1,507.7 350.8,504.3 351.5,506.7 352.2,505.7 352.9,506.8 353.6,505.5 354.3,506.4 355,504.7 355.8,507.6 356.5,505 357.2,506.5 357.9,505.6 358.6,507.7 359.3,504.9 360,506 360.7,507.6 361.4,505 362.1,506.4 362.9,505.4 363.6,506.6 364.3,504.8 365,507.7 365.7,505 366.4,506.5 367.1,504.5 367.9,506.6 368.6,505.3 369.3,506.9 370,504.5 370.7,507.1 371.4,505.3 372.1,507.8 372.9,504.7 373.6,507.3 374.3,504.9 375,506.6 375.7,504.7 376.4,507.4 377.1,505 377.9,507.5 378.6,504.5 379.3,506.3 380,506 380.7,505.5 381.4,506.9 382.1,503.9 382.8,507.2 383.5,504.7 384.2,506.9 384.9,504.5 385.6,506.3 386.3,504.1 387,505.9 387.7,504.3 388.4,505.4 389.1,504 389.9,505.5 390.6,503.3 391.3,504.8 392,502.8 392.7,505 393.4,503.1 394.1,504.4 394.8,502.7 395.5,504.5 396.2,502.7 396.9,504.5 397.6,502.6 398.3,504.4 399,503 399.8,497.8 400.7,495.9 401.5,491.4 402.3,491.7 403.2,499.7 404,503 404.8,502.5 405.5,504.9 406.2,502.8 407,503.3 407.8,503.8 408.5,505.7 409.2,504.4 410,505 410.7,506.7 411.4,504 412.1,506.8 412.9,504.4 413.6,506.9 414.3,503.9 415,506.4 415.7,504.2 416.4,505.9 417.1,504.1 417.9,506.6 418.6,504.5 419.3,506.3 420,504.6 420.7,506.1 421.4,504.1 422.1,507.3 422.9,505.3 423.6,506.6 424.3,505.3 425,506.8 425.7,504.6 426.4,507.2 427.1,505.5 427.9,506.4 428.6,505.2 429.3,507.2 430,506 430.8,503.9 431.5,506.4 432.3,503.6 433,505 433.8,502.9 434.5,505.5 435.3,502.7 436,504.3 436.8,501.2 437.5,504.1 438.3,502 439.3,497.6 440.3,496.3 441.3,500.7 442.3,503 443.1,503 443.8,502.7 444.6,502.1 445.4,505.8 446.1,503.4 446.9,505.7 447.7,503.6 448.5,505.7 449.2,504 450,506 450.7,507 451.4,503.7 452.2,505.7 452.9,503.2 453.6,506.2 454.3,503 455,504.5 455.8,503.3 456.5,504.3 457.2,503 457.9,493.6 458.6,485 459.4,494.4 460.1,503 460.9,502.4 461.7,504.1 462.6,503 463.4,506.1 464.2,503.6 465,505 465.7,506 466.4,503.6 467.1,505.7 467.9,504.7 468.6,505.5 469.3,503.5 470,506.5 470.7,504.4 471.4,506.3 472.1,504.9 472.9,507.3 473.6,502.6 474.3,507.2 475,504.6 475.7,507 476.4,504.4 477.1,507.4 477.9,504.6 478.6,507 479.3,504.2 480,506 480.7,506.8 481.4,504 482.2,506.8 482.9,504.9 483.6,506.4 484.3,503.3 485,505.8 485.8,503.3 486.5,505.4 487.2,503.6 487.9,505.5 488.7,503.2 489.4,505.7 490.1,502.9 490.8,504.8 491.5,502.2 492.3,505 493,501.9 493.7,503 494.4,494.1 495.1,485 495.9,492.8 496.7,501 497.4,501.7 498.2,499.2 498.9,502 499.7,499.8 500.4,501 501.2,498.9 501.9,500 502.7,499.5 503.5,499.8 504.4,502.6 505.2,502.6 506,505 506.7,506.8 507.4,503.9 508.1,505.8 508.8,504.7 509.5,506.8 510.2,503.9 510.9,506 511.6,504.3 512.3,507 513,505 513.7,507.1 514.4,505 515.1,506.3 515.8,504.5 516.5,506.3 517.2,504.8 517.9,506.4 518.6,504.6 519.3,507.5 520,506 520.7,504.3 521.4,506.1 522.1,505 522.8,506.5 523.5,504.3 524.2,503.4 524.9,503.6 525.6,505.1 526.4,502.1 527.1,505.2 527.8,502.4 528.5,503.5 529.2,501.9 529.9,504.2 530.6,501 531.3,502.6 532,502 532.8,500.3 533.5,500.2 534.3,497.6 535,497.8 535.8,496.3 536.5,495.7 537.2,498.8 537.9,497.9 538.6,501.4 539.3,500.5 540,502 540.7,502.6 541.4,502.1 542.1,503.9 542.9,501.4 543.6,504.6 544.3,502 545,504.6 545.7,501.6 546.4,505.9 547.1,503.4 547.9,506.5 548.6,504.1 549.3,506.4 550,506 550.7,504.5 551.4,506 552.1,503.7 552.8,506.6 553.5,504.1 554.2,506.2 554.9,503.9 555.6,505.3 556.4,503.3 557.1,504.1 557.8,502.5 558.5,504.5 559.2,502.2 559.9,504 560.6,501.9 561.3,503.5 562,502 562.8,500.1 563.6,501.7 564.4,499.6 565.2,500.7 566,499 566.8,499.6 567.6,502.4 568.4,500.7 569.2,504.4 570,504 570.7,503.3 571.4,504.8 572.1,503.3 572.9,504.9 573.6,503.5 574.3,505.8 575,503.4 575.7,505.2 576.4,502.9 577.1,506.3 577.9,504.3 578.6,505.6 579.3,504.6 580,505 580.8,505.6 581.5,500.3 582.2,503.6 583,501.5 583.8,501.9 584.5,499.9 585.2,501.3 586,499 587,496.7 588,496.3 588.8,499.6 589.5,497.8 590.2,502.9 591,503 591.8,501.1 592.5,502.7 593.2,497.5 594,500 594.9,499.7 595.9,495.6 596.8,494 597.6,497.3 598.4,497.2 599.2,501.4 600,503 600.7,501.8 601.4,504.4 602.1,502 602.9,505.5 603.6,503.7 604.3,504.8 605,503.1 605.7,505.3 606.4,504.6 607.1,506.8 607.9,504.6 608.6,507 609.3,504.1 610,506 610.7,507.1 611.4,505 612.1,506.7 612.9,505.7 613.6,506.9 614.3,505.7 615,506.6 615.7,505.3 616.4,507.3 617.1,505.4 617.9,506.8 618.6,505.1 619.3,507.6 620,505.2 620.7,506.6 621.4,504.7 622.1,507.3 622.9,504.7 623.6,507.5 624.3,504.5 625,505.3 625.7,504.2 626.4,507.4 627.1,504.3 627.9,507.2 628.6,504 629.3,507.4 630,504.6 630.7,504.7 631.4,505.7 632.1,507.7 632.9,505.6 633.6,507.3 634.3,505.1 635,507.6 635.7,504.6 636.4,506.3 637.1,505.4 637.9,506.6 638.6,504.7 639.3,504.7 640,506 640.7,504.8 641.4,506.6 642.1,504.3 642.9,506.3 643.6,505.2 644.3,506.8 645,505.2 645.7,506.1 646.4,504.5 647.1,506.4 647.9,503.9 648.6,505.9 649.3,505.1 650,506.8 650.7,504.7 651.4,506.7 652.1,504.5 652.9,505.8 653.6,504.1 654.3,506.5 655,504.3 655.7,506.2 656.4,504.6 657.1,506.4 657.9,504.5 658.6,505.8 659.3,503.9 660,505 660.8,502.7 661.5,504.2 662.2,505.1 663,502.5 663.8,504.5 664.5,503.4 665.2,504 666,502.1 666.8,504.9 667.5,501.5 668.2,504.4 669,502.5 669.7,500.9 670.5,503.8 671.2,501.3 671.9,503.8 672.7,500.9 673.4,503.7 674.1,500.9 674.9,502.5 675.6,500.9 676.3,503.2 677.1,501 677.8,503.9 678.5,501.3 679.3,503.7 680,502 680.7,500.5 681.4,502.5 682.1,501.1 682.9,503.6 683.6,501.3 684.3,503.6 685,500.8 685.7,503.6 686.4,501 687.1,502.8 687.9,501 688.6,503.4 689.3,500.6 690,502 690.8,503.5 691.6,500.7 692.4,502.4 693.2,500.9 694,502 694.7,503.6 695.4,502.8 696.1,507.1 696.8,504.8 697.5,507.5 698.2,507.9 699,505.6 699.7,507.8 700.4,506 701.2,508.2 701.9,506.1 702.6,506.8 703.4,504.8 704.1,506.8 704.9,505.5 705.6,506.7 706.3,504.8 707.1,507.2 707.8,503.2 708.5,506 709.3,503.4 710,505 710.7,506 711.4,504 712.1,506.7 712.8,504.1 713.5,506.3 714.2,503.5 714.9,506 715.6,504.5 716.3,506.3 717,504 717.7,505.6 718.4,503.6 719.1,506.3 719.8,504.2 720.5,506.3 721.2,504.7 721.9,506.3 722.6,503.8 723.3,506.6 724,503.9 724.7,505.5 725.4,504.1 726.1,506.5 726.8,504.2 727.5,506.2 728.2,504.5 728.9,506 729.6,503.9 730.3,506.7 731,504.9 731.7,506.6 732.4,503.5 733.1,506.1 733.8,503.6 734.5,506.7 735.2,503.1 735.9,506.5 736.6,503.5 737.3,506.9 738,503.6 738.7,505.7 739.4,504.5 740.1,506.8 740.8,504.3 741.5,506.7 742.2,504.2 742.9,506.5 743.6,504.4 744.3,506.2 745,504.2 745.7,506.2 746.4,504 747.1,506.2 747.8,503.8 748.5,507 749.2,505.1 749.9,506.4 750.6,503.7 751.3,504.2 752.1,502 752.8,507.1 753.5,503.9 754.2,506 754.9,503.9 755.6,506.3 756.3,504.7 757,504.2 757.7,504 758.4,506.9 759.1,503.8 759.8,505.7 760.5,504.6 761.2,506.2 761.9,503.7 762.6,506.8 763.3,504.6 764,506.4 764.7,504.4 765.4,506.4 766.1,504 766.8,506.4 767.5,503.9 768.2,506.2 768.9,503.9 769.6,506.4 770.3,504.9 771,506.1 771.7,504.3 772.4,506 773.1,503.8 773.8,507.1 774.5,505 775.2,506 775.9,504.5 776.6,507 777.3,505 778,506.6 778.7,504.4 779.4,506.4 780.1,502.7 780.8,506.7 781.5,504 782.2,506.7 782.9,505.2 783.6,506.9 784.3,504.3 785,507.1 785.7,504.4 786.4,507.3 787.1,504.5 787.8,506.8 788.5,504.4 789.2,506.5 789.9,505.1 790.6,506 791.3,504.3 792,506.7 792.7,503 793.4,506.5 794.1,504.6 794.8,507.3 795.5,504.6 796.2,507.1 796.9,504.8 797.6,506.1 798.3,505.3 799,507.1 799.7,505 800.4,506.2 801.1,505.4 801.8,506.4 802.5,504.9 803.2,507.4 803.9,505.2 804.6,507 805.3,504.5 806,507.2 806.7,505.2 807.4,507.3 808.1,504.8 808.8,506.2 809.5,505.1 810.2,507.4 810.9,505 811.6,506.4 812.3,505.6 813,507.2 813.7,504.2 814.4,507.7 815.1,505.4 815.8,507.3 816.5,505.6 817.2,507 817.9,504.5 818.6,506.4 819.3,504.6 820,507.3 820.7,504.6 821.4,507.5 822.1,504.8 822.8,507.4 823.5,505 824.2,506.9 824.9,504.4 825.6,506.5 826.3,505.4 827,506.4 827.7,505.2 828.4,506.6 829.1,502.7 829.8,506.6 830.5,505.4 831.2,506.5 831.9,504.7 832.6,506.4 833.3,505.8 834,507.5 834.7,505.3 835.4,507.5 836.2,505 836.9,506.8 837.6,505.2 838.3,507 839,505.1 839.7,507.7 840.4,505.4 841.1,507.4 841.8,505.7 842.5,507.4 843.2,505.6 843.9,507.9 844.6,505.1 845.3,507.2 846,505.5 846.7,507.2 847.4,505 848.1,507.9 848.8,505.5 849.5,506.6 850.2,505.3 850.9,506.6 851.6,505.7 852.3,507.1 853,505.5 853.7,506.8 854.4,505.8 855.1,507.4 855.8,506 856.5,507 857.2,506 857.9,506.7 858.6,505.4 859.3,508 860,504.9 860.7,507.7 861.4,504.9 862.1,508.1 862.8,506 863.5,507.1 864.2,505.8 864.9,507.4 865.6,505.1 866.3,507.2 867,505.3 867.7,507.6 868.4,505.3 869.1,507.1 869.8,503.2 870.5,507.3 871.2,506 871.9,508 872.6,504.7 873.3,507.5 874,505.8 874.7,507.9 875.4,504.9 876.1,507 876.8,504.8 877.5,507.2 878.2,504.9 878.9,507.7 879.6,506.2 880.3,506.8 881,502.8 881.7,507.6 882.4,504.8 883.1,508 883.8,505.5 884.5,508 885.2,505.1 885.9,507.7 886.6,506 887.3,507.6 888,506.1 888.7,507.3 889.4,505 890.1,507.7 890.8,505.6 891.5,508.2 892.2,505.3 892.9,507.3 893.6,505.8 894.3,507.7 895,505.2 895.7,508 896.4,504.9 897.1,507.6 897.8,506 898.5,507.5 899.2,505.6 899.9,507.4 900.6,504.9 901.3,508.1 902,505.6 902.7,507.3 903.4,505.4 904.1,507.6 904.8,506.4 905.5,508.5 906.2,505.8 906.9,507.9 907.6,505.4 908.3,507.5 909,505 909.7,508.4 910.4,505.1 911.1,508.2 911.8,505.1 912.5,508.6 913.2,506.2 913.9,507.8 914.6,505.5 915.3,508.6 916,506.6 916.7,508.1 917.4,505.5 918.1,508.5 918.8,505.1 919.6,508.3 920.3,505.3 921,507.4 921.7,506.4 922.4,508.5 923.1,505.5 923.8,508.2 924.5,506.5 925.2,508.3 925.9,506.6 926.6,507.7 927.3,505.3 928,508.6 928.7,505.6 929.4,507.6 930.1,505.8 930.8,508 931.5,505.4 932.2,507.6 932.9,505.9 933.6,508.5 934.3,506.1 935,507.7 935.7,505.9 936.4,508.3 937.1,506.5 937.8,508 938.5,506.5 939.2,508.4 939.9,505.5 940.6,508.2 941.3,503.7 942,508.7 942.7,505.4 943.4,508.3 944.1,505.8 944.8,508.5 945.5,506.4 946.2,508 946.9,505.4 947.6,508.3 948.3,506.1 949,508.5 949.7,506 950.4,508.8 951.1,505.4 951.8,508.5 952.5,506.5 953.2,508.8 953.9,506.4 954.6,507.9 955.3,506.6 956,508.9 956.7,505.6 957.4,508.6 958.1,506.1 958.8,508.6 959.5,506.9 960.2,508.1 960.9,505.5 961.6,508.8 962.3,505.8 963,507.9 963.7,505.5 964.4,508.2 965.1,505.7 965.8,507.8 966.5,506 967.2,507.6 967.9,506.6 968.6,508.5 969.3,506.1 970,507.6 970.7,504.1 971.4,507.7 972.1,506 972.8,508.2 973.5,506.7 974.2,507.7 974.9,506.7 975.6,509.2 976.3,506.8 977,508.3 977.7,506.7 978.4,509.2 979.1,506.8 979.8,507.8 980.5,507 981.2,509.2 981.9,506.2 982.6,508.3 983.3,503 984,509.2 984.7,506.8 985.4,507.8 986.1,506.4 986.8,508.5 987.5,506.6 988.2,507.8 988.9,506 989.6,509.3 990.3,505.7 991,508.3 991.7,507 992.4,509.1 993.1,506.1 993.8,509.1 994.5,506.8 995.2,509.2 995.9,506.9 996.6,508.2 997.3,507 998,509.1 998.7,505.8 999.4,508.4 1000.1,506.2 1000.8,506.6 1001.5,505.9 1002.2,508.9 1002.9,506.9 1003.7,508.6 1004.4,506.4 1005.1,509.2 1005.8,506.3 1006.5,508.6 1007.2,507 1007.9,509.3 1008.6,507 1009.3,509.1 1010,506.8 1010.7,509.1 1011.4,506.8 1012.1,508.5 1012.8,506.4 1013.5,508.5 1014.2,506.5 1014.9,509.3 1015.6,506.6 1016.3,509.3 1017,506.7 1017.7,509.2 1018.4,506 1019.1,508.8 1019.8,504.4 1020.5,509.4 1021.2,506.4 1021.9,508.4 1022.6,507.1 1023.3,509.1 1024,506.6 1024.7,508.9 1025.4,507.2 1026.1,508.4 1026.8,506.7 1027.5,508.9 1028.2,506.7 1028.9,509.2 1029.6,507.1 1030.3,508.7 1031,506.7 1031.7,508.4 1032.4,506.3 1033.1,509.6 1033.8,506.3 1034.5,509.5 1035.2,506.8 1035.9,509.3 1036.6,507.1 1037.3,509.6 1038,506.4 1038.7,508.9 1039.4,507.2 1040.1,509.4 1040.8,507.1 1041.5,509 1042.2,506.5 1042.9,509 1043.6,506.5 1044.3,508.3 1045,508" fill="none" stroke="#ff0a0a" stroke-width="2.4" stroke-linejoin="round" opacity="1.0"/>
<polygon points="201.9,585 202.2,553 206.3,553 206.3,585" fill="#9a9a9a"/>
<path d="M110.9,713.8 111.5,713 112.1,714.8 112.7,712.2 113.4,714.1 114,712.9 114.6,715.8 115.2,711.7 115.8,715.1 116.4,712 117.1,714.9 117.7,711.9 118.3,715.2 118.9,712.6 119.5,715.4 120.1,711.7 120.8,715.1 121.4,712.3 122,714.5 122.6,711.3 123.2,713.9 123.8,711.1 124.5,714.7 125.1,711.9 125.7,714.2 126.3,711.7 126.9,714.7 127.5,711.2 128.2,714.7 128.8,711.1 129.4,715.1 130,713 130.6,711.2 131.2,714.7 131.8,711.9 132.4,714.6 133,712.1 133.6,713.6 134.2,711.5 134.8,714.3 135.5,710.8 136.1,713.9 136.7,710.1 137.3,713.3 137.9,711 138.5,713.3 139.1,711.1 139.7,713.2 140.3,711.2 140.9,712.4 141.5,709.4 142.1,712.6 142.7,709.7 143.3,712.6 143.9,709 144.5,712.2 145.1,710.2 145.8,713.1 146.4,706.8 147,709.1 147.6,709.1 148.2,712.1 148.8,708.8 149.4,712.1 150,709.9 150.6,710.2 151.2,711.1 151.9,707.9 152.5,709.5 153.1,706.2 153.7,707.6 154.4,704.8 155,705 155.7,701.2 156.4,697.7 157.1,697.6 157.7,693.1 158.4,692.5 159.1,688.5 159.7,691.1 160.4,695.9 161,698 161.7,697.4 162.4,700 163.2,698.2 163.9,700.5 164.5,700.6 165.1,697.5 165.7,697.7 166.3,693.6 166.9,695.4 167.5,691.6 168.2,693.2 168.8,689.9 169.4,690.7 170,687.2 170.6,688.6 171.2,681.5 171.8,687.2 172.4,683.7 173,681.1 173.7,683.6 174.3,677.8 175,680.5 175.6,676.2 176.2,676.9 176.9,672.9 177.5,675.7 178.2,669.6 178.8,673.4 179.4,667 180.1,668.7 180.7,666.1 181.4,667.7 182,664.4 182.7,661.2 183.3,662.8 184,658 184.6,659 185.3,654.3 185.9,655.6 186.6,651.2 187.2,653.1 187.9,642.8 188.5,649.5 189.2,645 189.8,639.8 190.5,638.4 191.1,631 191.8,628.9 192.4,623.5 193.1,620.8 193.7,616 194.3,610.5 194.9,613.2 195.6,607.3 196.2,608.9 196.8,602.3 197.4,601.6 198,600.7 198.6,594.2 199.2,595.8 199.8,590.4 200.4,589 201.1,588.9 201.9,581.8 202.6,580.9 203.5,562 204.6,553 205.5,570 206.3,570 207,562.5 207.8,561.6 208.4,564.4 209,557.9 209.6,562.1 210.2,557.2 210.8,560 211.4,559.8 212,551.5 212.7,555 213.3,547.1 213.9,550.7 214.5,546 215.2,541.1 216,547.5 216.7,542.3 217.3,537.7 217.9,542.2 218.5,538 219.5,530 220,526.3 220.6,535 221.2,542.3 221.8,536 222.4,543 223,538 223.6,536.2 224.3,540.4 224.9,535.6 225.7,537 226.5,540 227.2,542.6 227.9,539.8 228.6,544.5 229.2,550 229.8,543.6 230.4,552 231,546.6 231.6,551.2 232.3,556.1 233.1,553.3 233.8,558.3 234.5,557.1 235.1,556.3 235.7,560.1 236.3,556 237,562 237.6,559 238.2,561.6 238.8,563.5 239.5,559.5 240.1,567.8 240.7,562.5 241.4,569.5 242,567.5 242.6,566.4 243.2,573.7 243.8,570.3 244.5,576.2 245.1,571.5 245.7,574.9 246.3,577.5 246.9,576.4 247.6,580.7 248.2,577.5 248.8,583.3 249.4,583.1 250.1,583.9 250.9,591.1 251.6,587.4 252.3,594.2 252.9,597.5 253.5,595.5 254.1,601.6 254.7,596.5 255.3,601.6 256,607.2 256.8,605 257.5,611.3 258.1,606.8 258.8,600 259.5,589 260.2,586.1 260.8,590.9 261.5,589 262.4,600 263.5,607.6 264.2,611.3 264.9,619.8 265.7,623.3 266.4,630.6 267,635.9 267.6,633.7 268.2,638.1 268.9,636.7 269.5,644 270.1,640.5 270.7,647 271.3,647.5 272,649 272.6,654.5 273.3,652.7 273.9,656 274.6,656.9 275.2,661.6 275.9,660.1 276.5,666.8 277.2,666.1 277.8,670.1 278.5,671.6 279.2,670.6 279.8,677.2 280.5,674 281.1,678.8 281.8,677.4 282.4,681.8 283.1,679.8 283.7,685.5 284.4,684 285,688.9 285.7,688.5 286.3,688.1 286.9,692.7 287.5,691.4 288.1,695.1 288.7,692.2 289.4,696.8 290,695.4 290.6,699.8 291.2,698.4 291.8,701.1 292.4,699.9 293,703 293.7,705.5 294.3,703.4 295,707 295.6,704.3 296.3,708.1 296.9,705.9 297.6,709 298.2,707.2 298.9,709.4 299.5,709 300.2,710.2 300.9,711.6 301.5,708.6 302.2,710 302.8,706.5 303.5,709.4 304.1,706.3 304.8,707 305.6,688.5 306.5,707 307.2,709.5 307.8,708.5 308.5,712.2 309.1,709.6 309.8,712.6 310.4,714.4 311.1,710.6 311.7,713.2 312.3,709.8 312.9,713.1 313.6,709.3 314.2,710.8 314.8,708.6 315.4,711.2 316.1,708.9 316.7,709.7 317.3,709 318.2,700.5 319.1,710 319.7,708.4 320.3,711.4 320.9,708 321.5,711.9 322.1,709.6 322.7,710.8 323.3,708.6 323.9,711 324.6,708.3 325.2,712 325.8,707.9 326.4,711.8 327,708.1 327.6,712 328.2,708.2 328.8,710.5 329.4,709.5 330,710 330.6,710.6 331.3,708.2 331.9,711 332.5,708.9 333.2,711.6 333.8,709 334.5,711.4 335.1,708.6 335.7,711.1 336.4,709.2 337,709.5 337.8,697.5 338.6,710 339.2,711.8 339.8,708.8 340.4,710.7 341,708.9 341.7,710.4 342.3,709.3 342.9,707.8 343.5,708.9 344.1,710.4 344.7,705 345.3,710.8 345.9,708.8 346.5,711.5 347.2,709.4 347.8,711.7 348.4,708.2 349,712.1 349.6,709.2 350.2,711.9 350.8,709 351.4,711.6 352.1,706.9 352.7,710.5 353.3,709.6 353.9,711.6 354.5,709.3 355.1,711.2 355.7,707.9 356.3,710.4 356.9,708.5 357.6,710.5 358.2,708 358.8,711.1 359.4,708.4 360,710 360.6,710.7 361.2,708.3 361.8,711.4 362.4,709 363,710.8 363.6,708.8 364.2,710.7 364.8,708.5 365.4,711.1 366,709.4 366.6,710.4 367.2,708.3 367.8,710.6 368.4,708.1 369,712.1 369.6,708.9 370.2,711.8 370.8,709 371.4,711.2 372,709.5 372.6,710.6 373.2,708.5 373.8,710.5 374.4,708.5 375,710.5 375.6,707.9 376.2,711.5 376.8,708.3 377.4,712 378,709.4 378.6,710.6 379.2,705.7 379.8,710.9 380.4,709.6 381,710.9 381.6,708.6 382.2,712 382.8,709.2 383.4,711.4 384,708.2 384.6,712.1 385.2,708.8 385.8,711.9 386.4,709.2 387,710.7 387.6,708.5 388.2,711.8 388.8,709.5 389.4,712.4 390,709.1 390.6,711 391.2,708.1 391.8,712.2 392.4,708.7 393,711.6 393.6,708.1 394.2,712.4 394.8,708.4 395.5,712.5 396.1,709.4 396.7,711 397.3,708.6 397.9,711.6 398.5,709.9 399.1,711.1 399.7,709.3 400.3,712 400.9,709.8 401.5,711.4 402.1,709.7 402.7,712 403.3,708.1 403.9,711.4 404.5,709.4 405.1,711.7 405.7,709.3 406.3,711.2 406.9,708.3 407.5,711.2 408.1,706.6 408.7,711.7 409.3,709.7 409.9,711.1 410.5,709.1 411.1,712.2 411.7,710 412.3,710.7 412.9,709.4 413.5,711.8 414.1,709.5 414.7,712.3 415.3,709.6 415.9,711.6 416.5,708.8 417.1,712.3 417.7,709.8 418.3,712.3 418.9,708.5 419.5,711.3 420.1,710.1 420.7,712.5 421.3,709.2 421.9,712.5 422.5,709 423.1,711.8 423.7,709.8 424.3,712.7 424.9,709.3 425.5,711.7 426.1,709.3 426.7,711.1 427.3,709.1 427.9,712.4 428.5,708.4 429.1,710.9 429.7,709.1 430.3,711.4 430.9,708.4 431.5,712.1 432.1,709.2 432.7,712.7 433.3,709.8 433.9,711.2 434.5,708.6 435.1,711.4 435.7,708.4 436.3,711.6 436.9,710 437.5,712.8 438.1,709.8 438.7,711.1 439.3,708.8 439.9,712.1 440.5,710.2 441.1,712.7 441.7,709.7 442.3,711.4 442.9,710.2 443.5,712.8 444.1,708.5 444.7,712.8 445.3,709 445.9,711.1 446.5,709.9 447.1,712.5 447.7,710.2 448.3,712 448.9,710.1 449.5,712.9 450.1,710.1 450.7,711.2 451.3,708.6 451.9,711.4 452.5,708.4 453.1,711.5 453.7,708.5 454.3,712.3 454.9,710.3 455.5,712.4 456.1,709.3 456.7,712.1 457.3,709.3 457.9,711.4 458.5,708.6 459.1,711.4 459.7,708.8 460.3,711.6 460.9,710.3 461.5,711.8 462.1,706.5 462.7,712.6 463.3,709.1 463.9,712.5 464.5,709.4 465.2,711.4 465.8,709.8 466.4,711.8 467,709.7 467.6,713 468.2,708.8 468.8,711.7 469.4,709.9 470,712.1 470.6,709.8 471.2,711.7 471.8,709.6 472.4,712.1 473,708.6 473.6,712 474.2,710.3 474.8,712.8 475.4,710.4 476,711.9 476.6,709.8 477.2,712.2 477.8,709.7 478.4,712.5 479,709.9 479.6,711.9 480.2,709.3 480.8,712.3 481.4,710.1 482,712.4 482.6,710.4 483.2,708.9 483.8,708.8 484.4,712.6 485,709 485.6,712.1 486.2,710.3 486.8,712 487.4,708.9 488,711.6 488.6,709.4 489.2,711.3 489.8,710.6 490.4,711.6 491,709.9 491.6,712.1 492.2,709.4 492.8,711.5 493.4,709.3 494,712.1 494.6,708.7 495.2,711.3 495.8,709.8 496.4,712.9 497,709.8 497.6,713 498.2,709.9 498.8,708.7 499.4,709.7 500,711 500.6,711.5 501.2,709.8 501.8,712.4 502.4,708.8 503,712.4 503.6,710.1 504.2,711.6 504.8,709.5 505.4,712.8 506,709.1 506.6,711.8 507.2,709.9 507.8,711.7 508.4,710.3 509,713.2 509.6,709 510.2,711.8 510.8,710.6 511.4,712.1 512,709.1 512.6,712.2 513.2,710.4 513.8,711.9 514.4,710.1 515,711.8 515.6,709.7 516.2,712.7 516.8,709.5 517.4,711.8 518,710 518.6,712.6 519.2,709.9 519.8,712.9 520.4,709.8 521,712 521.6,709.5 522.2,713 522.8,710.1 523.4,712.4 524,709.4 524.6,712.8 525.2,710.6 525.8,713.1 526.4,709.8 527,712.3 527.6,709.7 528.2,711.9 528.8,709.4 529.4,712.1 530,709.1 530.6,713.4 531.2,709.4 531.8,711.5 532.4,709.4 533,712.4 533.6,710.4 534.2,712.6 534.8,710.6 535.4,712.1 536,710.5 536.6,711.9 537.2,709.8 537.8,711.6 538.4,710.5 539,711.8 539.6,709.8 540.2,713.2 540.8,710.1 541.4,712.1 542,709.1 542.6,713.3 543.2,710.1 543.8,713.4 544.4,709.8 545,711.9 545.6,709 546.2,713 546.8,710.7 547.4,713 548,710 548.6,712.2 549.2,710.6 549.8,712.1 550.5,710.2 551.1,713 551.7,709.6 552.3,713.1 552.9,709.9 553.5,712.3 554.1,710.6 554.7,712 555.3,710 555.9,713.2 556.5,710.2 557.1,712.7 557.7,709.2 558.3,711.9 558.9,709.6 559.5,713 560.1,709.9 560.7,712.8 561.3,710.7 561.9,713.3 562.5,711 563.1,713.1 563.7,710.1 564.3,712.8 564.9,707.4 565.5,713 566.1,710.9 566.7,712.3 567.3,710.8 567.9,712.4 568.5,710.2 569.1,712.3 569.7,710.2 570.3,712.3 570.9,710.2 571.5,712.3 572.1,710 572.7,710.6 573.3,710.4 573.9,712.8 574.5,709.6 575.1,713 575.7,710.1 576.3,712.3 576.9,709.5 577.5,711.9 578.1,710 578.7,712.6 579.3,709.2 579.9,712.4 580.5,710.8 581.1,712.6 581.7,709.3 582.3,711.8 582.9,711.1 583.5,713.4 584.1,711 584.7,712.3 585.3,710.5 585.9,712 586.5,710.9 587.1,711.9 587.7,710.7 588.3,713.2 588.9,709.7 589.5,713 590.1,709.8 590.7,711.8 591.3,709.8 591.9,712.6 592.5,710.1 593.1,712.7 593.7,711.1 594.3,713.2 594.9,710.2 595.5,712.5 596.1,709.7 596.7,712.7 597.3,710.5 597.9,712.3 598.5,710 599.1,712.2 599.7,710.8 600.3,712.3 600.9,710.1 601.5,712.7 602.1,709.8 602.7,712.5 603.3,710.7 603.9,712.3 604.5,710 605.1,713.2 605.7,709.7 606.3,712.6 606.9,710.4 607.5,712.6 608.1,709.9 608.7,712.2 609.3,709.7 609.9,713.7 610.5,709.7 611.1,712.1 611.7,709.4 612.3,713.5 612.9,710.4 613.5,712.3 614.1,710.4 614.7,712.7 615.3,706.9 615.9,712.5 616.5,709.4 617.1,712.1 617.7,710.8 618.3,713.7 618.9,709.6 619.5,712.5 620.1,710.2 620.7,712.7 621.3,710.7 621.9,713.7 622.5,709.7 623.1,712.4 623.7,711 624.3,713.7 624.9,710.2 625.5,712.8 626.1,709.6 626.7,712.5 627.3,710.9 627.9,712.6 628.5,711.1 629.1,712.7 629.7,710.1 630.3,712.5 630.9,706.5 631.5,712.6 632.1,710.7 632.7,712.6 633.3,710.6 633.9,712.6 634.5,709.9 635.1,713.5 635.7,711.1 636.3,713.6 636.9,710.6 637.5,713.6 638.1,710.7 638.7,712 639.3,710.5 639.9,712.9 640.5,710 641.1,713.9 641.7,709.7 642.3,713.6 642.9,711.2 643.5,713.6 644.1,709.7 644.7,712.2 645.3,711.2 645.9,712.9 646.5,709.9 647.1,713.4 647.7,710.4 648.3,713.8 648.9,711.2 649.5,712.6 650.2,711.4 650.8,713.4 651.4,710.5 652,712.5 652.6,710 653.2,713.5 653.8,711.4 654.4,713.1 655,711 655.6,712.4 656.2,710.6 656.8,713.4 657.4,710.1 658,713.8 658.6,711 659.2,713.8 659.8,710.7 660.4,713.5 661,710.8 661.6,713.6 662.2,711.3 662.8,713.5 663.4,710.7 664,713 664.6,711.3 665.2,713.3 665.8,709.7 666.4,713 667,710.4 667.6,713.1 668.2,710.6 668.8,712.5 669.4,710.9 670,712.3 670.6,710.7 671.2,712.6 671.8,711.3 672.4,711.3 673,711.2 673.6,713.1 674.2,711 674.8,713.7 675.4,711.5 676,713.1 676.6,710.1 677.2,712.8 677.8,710.4 678.4,713.9 679,710.9 679.6,713.3 680.2,710.6 680.8,712.3 681.4,711.3 682,713.9 682.6,711.1 683.2,713.4 683.8,710.2 684.4,714.1 685,711.1 685.6,713.9 686.2,710.5 686.8,713.1 687.4,711.5 688,713.9 688.6,710.3 689.2,714.1 689.8,711 690.4,712.6 691,711.4 691.6,713 692.2,710.2 692.8,713.9 693.4,711.1 694,713.1 694.6,710 695.2,714.1 695.8,711 696.4,713.7 697,711 697.6,713.5 698.2,706.8 698.8,713.2 699.4,710.6 700,712 700.6,714.2 701.2,710.6 701.8,714 702.4,710.1 703,714.2 703.6,710.9 704.2,713.6 704.8,710.2 705.4,713.9 706,711.1 706.6,713.6 707.2,710.6 707.8,713.6 708.4,711.2 709,714 709.6,711.2 710.2,713.7 710.8,710.5 711.4,713.7 712,711 712.6,713.2 713.2,710.3 713.8,712.6 714.4,709.9 715,713.5 715.6,711.7 716.2,713.6 716.8,711.1 717.4,712.6 718,711.2 718.6,713.9 719.2,710.3 719.8,713.4 720.4,710.1 721,713.8 721.6,707.2 722.2,713.3 722.8,710.9 723.4,713.6 724,710.2 724.6,714.1 725.2,711.6 725.8,712.5 726.4,710.3 727,713.4 727.6,710.6 728.2,713.8 728.8,710.7 729.4,713 730,709.9 730.6,712.4 731.2,711.3 731.8,712.8 732.4,710.3 733,714.3 733.6,710.1 734.2,712.8 734.8,711 735.4,712.5 736,710.7 736.6,714 737.2,710.9 737.8,713.1 738.4,710.8 739,712.9 739.6,711.3 740.2,712.6 740.8,710.6 741.4,713.1 742,711.5 742.6,712.5 743.2,710.3 743.8,714.1 744.4,710.7 745,713.8 745.6,709.2 746.2,712.9 746.8,711.6 747.4,713.6 748,710.1 748.6,714.1 749.2,711.3 749.8,714 750.4,710.3 751,713.6 751.6,711.4 752.2,713.9 752.8,706.1 753.4,712.9 754,710.3 754.6,713.4 755.2,711.3 755.8,712.7 756.4,710.7 757,714.3 757.6,711.7 758.2,712.6 758.8,710.5 759.4,713.7 760,710.3 760.6,713.2 761.2,711.5 761.8,712.9 762.4,711.2 763,713.5 763.6,711.6 764.2,713.8 764.8,710.6 765.4,713.3 766,710.7 766.6,713.5 767.2,710.6 767.8,713.5 768.4,711 769,714.2 769.6,710.3 770.2,713.9 770.8,708.1 771.4,714.4 772,710.5 772.6,713.3 773.2,710.8 773.8,713.6 774.4,711.3 775,713.7 775.6,710.2 776.2,714.4 776.8,711.4 777.4,712.7 778,710.3 778.6,714.2 779.2,711.7 779.8,713.5 780.4,711.3 781,713.7 781.6,710.4 782.2,713.7 782.8,711.8 783.4,713.6 784,711.2 784.6,714.1 785.2,711.9 785.8,713.4 786.4,711.6 787,712.9 787.6,710.6 788.2,713.8 788.8,710.4 789.4,713.8 790,710.7 790.6,713.7 791.2,710.5 791.8,713.9 792.4,711.9 793,714.5 793.6,710.4 794.2,712.7 794.8,711.9 795.4,713.2 796,710.3 796.6,713.4 797.2,710.5 797.8,712.8 798.4,710.3 799,713.2 799.6,710.9 800.2,714.4 800.8,711.1 801.4,713.1 802,710.4 802.6,714.3 803.2,711.3 803.8,712.8 804.4,711.1 805,713 805.6,710.3 806.2,713.7 806.8,711 807.4,713.4 808,710.4 808.6,713.7 809.2,710.3 809.8,713 810.4,710.4 811,712.9 811.6,711.7 812.2,714.5 812.8,710.6 813.4,714.3 814,712 814.6,714.4 815.2,711.1 815.8,713.3 816.4,710.5 817,714.6 817.6,710.4 818.2,713 818.8,710.9 819.4,713.7 820,711.6 820.6,713.4 821.2,710.2 821.8,714 822.4,711.7 823,714.3 823.6,710.3 824.2,714.4 824.8,711.2 825.4,713 826,711.3 826.6,713.1 827.2,711.4 827.8,712.9 828.4,710.4 829,713.2 829.6,711.8 830.2,712.7 830.8,710.4 831.4,713.3 832,708.7 832.6,712.9 833.2,711.8 833.8,714.3 834.4,711.5 835,714 835.6,711.6 836.2,713.7 836.8,710.8 837.4,714.4 838,711.6 838.6,713 839.2,710.4 839.8,713.6 840.4,710.3 841,713.2 841.6,711.1 842.2,713.4 842.8,711.6 843.4,713.9 844,711.2 844.6,710.4 845.2,711.2 845.8,714.6 846.4,708.8 847,713.6 847.6,711.9 848.2,713.2 848.8,711.1 849.4,714.3 850,711.9 850.6,712.9 851.2,710.4 851.8,714 852.4,711.7 853,713.5 853.6,712.1 854.2,713.6 854.8,710.6 855.4,713.9 856,711.3 856.6,712.9 857.2,711.2 857.8,713.3 858.4,711.5 859,713.3 859.6,711.4 860.2,713.4 860.8,711.2 861.4,713 862,711.6 862.6,714.6 863.2,710.8 863.8,713 864.4,710.4 865,714 865.6,711.1 866.2,714 866.8,710.5 867.4,713.2 868,711 868.6,714.4 869.2,710.9 869.8,714.1 870.4,710.6 871,714.5 871.6,711.6 872.2,714 872.8,710.9 873.4,714.5 874,711.3 874.6,714 875.2,711.6 875.8,712.9 876.4,710.6 877,713 877.6,711.5 878.2,714 878.8,711.6 879.4,712.9 880,711.6 880.6,713.4 881.2,711.5 881.8,713.5 882.4,710.7 883,714.3 883.6,711.8 884.2,714.6 884.8,712 885.4,714.6 886,710.7 886.6,714.4 887.2,711.3 887.8,714.1 888.4,711.7 889,713.1 889.6,710.3 890.2,714.6 890.8,712 891.4,714.7 892,710.4 892.6,714.2 893.2,710.5 893.8,713 894.4,712.2 895,714 895.6,711.8 896.2,713.6 896.8,711.1 897.4,713 898,712.1 898.6,714.1 899.2,706.9 899.8,713.5 900.4,711.5 901,713.5 901.6,711.8 902.2,713.8 902.8,711.6 903.4,713.6 904,710.7 904.6,714.4 905.2,710.6 905.8,712.1 906.4,710.8 907,714.3 907.6,711.3 908.2,714.1 908.8,711.9 909.4,714.5 910,711.6 910.6,714.3 911.2,710.6 911.8,714.3 912.4,711.6 913,713.7 913.6,712.3 914.2,714.4 914.8,712.2 915.4,713.3 916,711.9 916.6,714 917.2,710.7 917.8,713.9 918.4,711.5 919,714.8 919.6,711.3 920.2,714.1 920.8,712.2 921.4,714.7 922,710.5 922.6,714.9 923.2,711.8 923.8,714.7 924.4,710.8 925,714 925.6,710.8 926.2,713.5 926.8,710.5 927.4,713 928,711.1 928.6,714.7 929.2,711 929.8,714 930.4,710.6 931,713.5 931.6,710.5 932.2,713.1 932.8,711 933.4,714.3 934,710.8 934.6,714.3 935.2,711 935.8,714.6 936.4,710.7 937,713.2 937.6,710.6 938.2,713.9 938.8,711.1 939.4,713.9 940,712.2 940.6,713.3 941.2,711.4 941.8,714.2 942.4,708.9 943,713.3 943.6,711.7 944.2,713.9 944.8,710.8 945.4,714 946,710.5 946.6,713.1 947.2,710.6 947.8,713.7 948.4,711.9 949,713.4 949.6,711.9 950.2,714.4 950.8,711.4 951.4,713.6 952,711.2 952.6,713.6 953.2,711.4 953.8,714 954.4,712 955,714 955.6,711.6 956.2,713.8 956.8,710.6 957.4,713.5 958,710.6 958.6,713.3 959.2,710.6 959.8,713.9 960.4,710.8 961,714.4 961.6,711.4 962.2,713.4 962.8,712.1 963.4,713.2 964,710.7 964.6,714.6 965.2,711.6 965.8,714.6 966.4,711.5 967,714.7 967.6,712.4 968.2,714.8 968.8,711.3 969.4,713.6 970,712.3 970.6,714.2 971.2,711 971.8,713.6 972.4,711 973,714.2 973.6,711.1 974.2,713.6 974.8,711.1 975.4,714.8 976,711.4 976.6,714.3 977.2,711.2 977.8,714.1 978.4,711.2 979,715 979.6,710.8 980.2,714.1 980.8,710.9 981.4,713.7 982,712 982.6,713.7 983.2,711.8 983.8,714.9 984.4,711.8 985,714.5 985.6,711.7 986.2,714.6 986.8,711.8 987.4,713.3 988,710.8 988.6,713.4 989.2,711 989.8,714.3 990.4,709.8 991,714.8 991.6,711 992.2,713.5 992.8,710.8 993.4,713.8 994,711.7 994.6,713.7 995.2,711.3 995.8,713.5 996.4,711.2 997,714.4 997.6,711.1 998.2,714.6 998.8,711.9 999.4,713.9 1000,711.1 1000.6,714.2 1001.2,711.4 1001.8,714.7 1002.4,712.4 1003,713.5 1003.6,710.7 1004.2,713.8 1004.8,710.8 1005.4,715 1006,711.9 1006.6,713.9 1007.2,711.8 1007.8,713.8 1008.4,711.5 1009,714.1 1009.6,711.5 1010.2,714.6 1010.8,712.2 1011.4,714 1012,711.4 1012.6,715 1013.2,712 1013.8,714.3 1014.4,711.5 1015,714 1015.6,712.1 1016.2,714.7 1016.8,710.9 1017.4,714.9 1018,711.7 1018.6,713.4 1019.2,712.2 1019.8,715 1020.4,711.5 1021,714.6 1021.6,712.1 1022.2,714.5 1022.8,712.1 1023.4,713.4 1024,711.4 1024.6,714.4 1025.2,712.4 1025.8,714.8 1026.4,711.2 1027,715.2 1027.6,709.1 1028.2,713.3 1028.8,712.3 1029.4,713.9 1030,712.1 1030.6,713.5 1031.2,710.8 1031.8,715.1 1032.4,711.4 1033,715.1 1033.6,711.3 1034.2,713.5 1034.8,711.1 1035.4,712.5 1036,711.1 1036.6,714 1037.2,707.7 1037.8,715.1 1038.4,711 1039,714.5 1039.6,711.2 1040.2,714.1 1040.8,712.3 1041.4,715.1 1042,711 1042.6,713.8 1043.2,712.1 1043.8,714 1044.4,711.4 1045,713" fill="none" stroke="#000" stroke-width="2.3" stroke-linejoin="round" opacity="1.0"/>
<polygon points="190.7,1168 190.9,1108 191.8,1100 191.8,1056 195,1056 195.5,1085 197.7,1108 197.7,1168" fill="#8c8cff"/>
<polygon points="188,1194 188.2,1170 191.5,1168 191.5,1194" fill="#a0a0ff"/>
<polygon points="247.2,1200 247.4,1131 251.8,1131 251.8,1200" fill="#8c8cff"/>
<path d="M102.4,1237.8 103.4,1237.4 104.4,1238.3 105.5,1237.6 106.5,1238.7 107.5,1237 108.5,1238.4 109.5,1237.5 110.6,1238.1 111.6,1236.9 112.6,1238.6 113.6,1237.4 114.6,1238.6 115.7,1236.9 116.7,1238.5 117.7,1237.2 118.7,1238.4 119.7,1236.9 120.8,1238.4 121.8,1236.9 122.8,1238.7 123.8,1237.2 124.8,1238.5 125.8,1237.5 126.9,1238.6 127.9,1237.6 128.9,1238.2 129.9,1237.2 130.9,1238.8 132,1237.3 133,1238.5 134,1237.3 135,1238.2 136,1236.9 137.1,1238 138.1,1237 139.1,1238.2 140.1,1237.5 141.1,1238 142.2,1236.9 143.2,1238.6 144.2,1237.8 145.3,1234.8 146.5,1232 148,1215 149.2,1192.3 150.5,1215 151.5,1226.6 152.5,1237.8 153.5,1237.1 154.6,1238.1 155.6,1236.8 156.6,1237.5 157.7,1236.3 158.7,1236.2 159.7,1236.1 160.8,1236.7 161.8,1236 163.2,1231.2 164.6,1226.7 165.8,1224.4 167.1,1220.9 168.3,1218.3 169.5,1221.4 170.8,1223.6 172,1226.7 173.1,1225.7 174.2,1222.6 175.2,1222.7 176.3,1220 177.4,1219.5 178.5,1217.4 179.6,1215.4 180.7,1215 181.8,1212 182.9,1212.1 184,1210 185.2,1206.5 186.3,1203.8 187.5,1199.5 188.7,1197 190.5,1171 191.5,1150 192.3,1100 192.8,1055 194.2,1055 195.6,1108 196.2,1170 196.6,1184 197.6,1185.3 198.6,1185.5 199.7,1187.9 200.7,1187.7 201.7,1189.6 202.8,1185.9 204,1181.1 205.2,1177.7 206.3,1172.9 207.4,1165.1 208.5,1158 210,1170 211,1182 212,1179 213,1175 214.3,1170.6 215.6,1167.3 217,1176.8 218.4,1185.8 219.6,1187.9 220.7,1192.3 221.8,1194 223,1197 224,1198.7 225.1,1198 226.1,1199.1 227.1,1198.6 228.2,1200.4 229.2,1200 230.2,1202.3 231.3,1201.7 232.3,1202.5 233.5,1200.4 234.6,1197.6 235.8,1196.5 236.9,1193.3 238.8,1208.1 239.9,1208.5 240.9,1210.6 242,1210.8 243,1213.2 244.1,1212.7 245.1,1214.6 246.2,1215.5 247.5,1200 248,1167 248.8,1130.2 250.6,1130.2 251.2,1200 251.8,1223 252.9,1223.6 254,1226.2 255.1,1226.2 256.1,1226.7 257.2,1228.3 258.3,1230.4 259.4,1231 260.5,1229.6 261.6,1230.8 262.7,1229.4 263.8,1230.4 264.9,1228.8 266,1225.7 267.2,1225.4 268.3,1222.1 269.4,1221.1 270.5,1223.4 271.7,1223.5 272.9,1225.8 274,1226.7 275.1,1228.2 276.2,1230.7 277.2,1231.7 278.3,1234.7 279.4,1234 280.5,1237.8 281.6,1237.6 282.7,1235.3 283.8,1235.4 284.9,1233.5 286,1234.3 287.1,1231.9 288.2,1232.4 289.3,1230.9 290.4,1225.2 291.4,1220.7 292.5,1215 293.6,1196.9 294.8,1179 296.5,1210 297.6,1217 298.6,1223.5 299.8,1227 300.9,1231.2 302.1,1234.4 303.2,1238.3 304.6,1234.3 306,1230 307.5,1217.9 309,1232 310.6,1238.3 311.7,1237.1 312.8,1236.9 313.9,1235.1 314.9,1234.9 316,1232.8 317.1,1232.8 318.2,1231.6 319.4,1228.6 320.6,1227.3 321.7,1225.3 323.1,1221.8 324.5,1220 326.4,1204.9 328,1225 329.2,1234.6 330.3,1235.1 331.4,1233.7 332.4,1234.3 333.5,1232.4 334.6,1234.1 335.7,1232.8 336.8,1233.1 337.8,1235.7 338.9,1235.1 339.9,1238 341,1237.4 342,1239.9 343.1,1240.2 344.2,1239.7 345.2,1240.7 346.3,1239 347.3,1240.3 348.4,1239.3 349.4,1239.7 350.5,1238.8 351.6,1240 352.6,1238.3 353.7,1239.4 354.7,1238.1 355.8,1239.9 356.8,1238.4 357.9,1239.1 358.9,1237.7 360,1238.5 361,1239.3 362,1238.1 363,1239.4 364,1237.6 365,1239 366,1238 367,1238.6 368,1238.2 369,1238.6 370,1237.3 371,1239.2 372,1237.5 373,1239.2 374,1237.5 375,1238.9 376,1237.6 377,1238.4 378,1237.6 379,1238.4 380,1237.7 381,1238.8 382,1237.6 383,1238.5 384,1235.2 385,1238 386,1236.3 387,1233.1 388,1232 389.2,1229.4 390.4,1226.3 391.7,1230.8 393,1236 394,1236.7 395,1235.7 396,1238 397,1237 398,1238.6 399,1237.9 400,1238.5 401,1239.4 402,1237.8 403,1239.1 404,1237.7 405,1239.3 406,1238 407,1239 408,1237.5 409,1239.2 410,1237.6 411,1238.9 412,1237.3 413,1238.5 414,1237.6 415,1238.9 416,1237.9 417,1239 418,1237.4 419,1239.1 420,1235.7 421,1238.8 422,1237.9 423,1238.2 424,1237.7 425,1238 426.1,1237.3 427.1,1233.9 428.2,1233.7 429.2,1231.4 430.3,1230 431.5,1233 432.6,1233.1 433.8,1236.7 435,1238 436,1237.3 437,1236.4 438,1237.1 439,1238.8 440,1237.3 441,1238.4 442,1237.6 443,1238.2 444,1237.6 445,1238 446,1234.1 447,1230 448.8,1219.8 449.9,1225.8 451,1232 452,1233.9 453,1234.9 454,1237.6 455,1238.5 456,1237.9 457,1238.8 458,1237.3 459,1238.6 460,1238 461,1238.5 462,1237.4 463,1238.2 464,1237.7 465,1238.1 466,1237.5 467,1238 468,1237.3 469,1238.3 470,1236.6 471,1237.9 472,1236.5 473,1238.4 474,1236.4 475,1238 476,1237 477,1237.4 478,1236.5 479,1237.5 480,1237 481.2,1232 482.5,1228 483.5,1220.6 484.5,1213.1 485.8,1221.4 487,1230 488,1232.2 489,1232.5 490,1235.3 491,1235.4 492,1238 493,1238.4 494,1237.7 495,1238.3 496,1237.2 497,1238.6 498,1237.6 499,1238.5 500,1237.5 501,1238.5 502,1237.7 503,1238.8 504,1237.5 505,1238 506.1,1237.7 507.2,1235.6 508.2,1236.7 509.3,1234.7 510.4,1234.9 511.5,1233.5 512.6,1233.9 513.8,1236.3 514.9,1236.6 516,1238 517,1238 518,1236.8 519,1237.7 520,1236.2 521,1236.9 522,1236 523.1,1232.6 524.3,1231.3 525.4,1228.4 526.6,1230.7 527.8,1234.9 529,1237 530,1236.5 531,1238 532,1236.2 533,1238 534,1237.1 535,1238.3 536,1236.5 537,1238.2 538,1237.2 539,1238.2 540,1237.4 541,1238.1 542,1236.8 543,1238.3 544,1237.8 545,1238 546,1238.8 547,1237.7 548,1238.1 549,1236.9 550,1238.7 551,1236.9 552,1238.7 553,1235.9 554,1238 555,1237.1 556,1238.3 557,1236.8 558,1238.1 559,1237.2 560,1237.7 561,1236.6 562,1237.8 563,1236.6 564,1237.9 565,1236.2 566,1238 567,1236.6 568,1237.5 569,1236.4 570,1237 571.1,1235.9 572.3,1233.8 573.5,1233.4 574.6,1230.6 575.8,1230.2 576.9,1228.4 577.9,1230.7 579,1234.8 580,1237 581,1236.3 582,1236.9 583,1235.8 584,1236 585.3,1231.8 586.6,1227 587.8,1232.3 589,1238 590,1238.5 591,1237.3 592,1239 593,1238 594,1236.6 595,1238.1 596,1238.9 597,1238 598,1238.9 599,1237.9 600,1238.5 601,1238.9 602,1237.7 603,1236.7 604,1238 605,1239.1 606,1238 607,1237.9 608,1237.7 609,1239 610,1237.9 611,1238.9 612,1237.9 613,1238.6 614,1238.1 615,1239.2 616,1237.5 617,1239.1 618,1237.9 619,1238.6 620,1237.5 621,1239.2 622,1237.8 623,1239.2 624,1237.7 625,1238.7 626,1238.1 627,1239 628,1238 629,1238.9 630,1237.8 631,1238.8 632,1238 633,1238.4 634,1237.5 635,1239 636,1238 637,1238.6 638,1237.6 639,1239.2 640,1237.4 641,1239.2 642,1237.8 643,1239 644,1237.3 645,1238.9 646,1237.5 647,1238.9 648,1238 649,1239.1 650,1238 651,1239 652,1237.3 653,1238.8 654,1237.9 655,1238.7 656,1237.4 657,1238.9 658,1237.4 659,1238.3 660,1237.3 661,1238.3 662,1237.6 663,1238.7 664,1237.1 665,1238.8 666,1237.7 667,1238.9 668,1237.3 669,1238.5 670,1237.7 671,1238.5 672,1237.1 673,1238.9 674,1237.2 675,1238 676.1,1238.2 677.2,1236 678.3,1236.5 679.4,1235.4 680.5,1236 681.6,1233.7 682.7,1234 683.8,1235.5 684.8,1235.1 685.9,1236.9 686.9,1237 688,1238.5 689,1238.9 690,1237.7 691,1239.3 692,1237.5 693,1239 694,1237.8 695,1238.8 696,1237.9 697,1238.9 698,1238 699,1239.1 700,1237.7 701,1238.8 702,1237.9 703,1238.2 704,1237.8 705,1239.1 706,1238.1 707,1238.8 708,1237.5 709,1239.3 710,1238.3 711,1239.3 712,1237.9 713,1238.8 714,1237.9 715,1239 716,1237.6 717,1239.3 718,1237.9 719,1238.8 720,1237.7 721,1239.4 722,1237.9 723,1238.7 724,1237.9 725,1239.2 726,1237.9 727,1239 728,1238.1 729,1239 730,1238 731,1238.9 732,1238 733,1238.7 734,1238.3 735,1238.8 736,1238.3 737,1238.9 738,1237.7 739,1238.7 740,1238 741,1239 742,1237.9 743,1238.8 744,1237.5 745,1239.3 746.1,1238 747.1,1239.3 748.1,1237.7 749.1,1239.2 750.1,1237.7 751.1,1239.2 752.1,1238.3 753.1,1238.9 754.1,1236.2 755.1,1239.1 756.1,1237.6 757.1,1238.8 758.1,1237.7 759.1,1239.1 760.1,1237.7 761.1,1239.2 762.1,1237.7 763.1,1239.5 764.1,1238.4 765.1,1238.9 766.1,1238.3 767.1,1239 768.1,1238.3 769.1,1238.8 770.1,1238.1 771.1,1238.8 772.1,1237.7 773.1,1239.1 774.1,1238.2 775.1,1239.1 776.1,1238.1 777.1,1239.2 778.1,1237.9 779.1,1239.4 780.1,1238.1 781.1,1239.3 782.1,1238 783.1,1239.3 784.1,1238.1 785.1,1239 786.1,1238.1 787.1,1239.2 788.1,1237.5 789.1,1239 790.1,1237.8 791.1,1239.2 792.1,1237.6 793.1,1239.4 794.1,1237.6 795.1,1239.5 796.1,1238.3 797.1,1238.8 798.1,1237.9 799.1,1239 800.1,1237.6 801.1,1239.1 802.1,1238.2 803.1,1239 804.1,1237.9 805.1,1239.1 806.1,1237.9 807.1,1238.8 808.1,1238 809.1,1238.8 810.1,1238.1 811.1,1239.4 812.1,1237.9 813.1,1238.9 814.1,1238 815.1,1238.8 816.1,1238.3 817.1,1238.9 818.1,1238.3 819.1,1239.5 820.1,1237.6 821.1,1239.4 822.1,1238 823.1,1239.1 824.1,1237.8 825.1,1238.8 826.1,1237.8 827.1,1238.8 828.1,1238.3 829.1,1238.8 830.1,1237.6 831.1,1239.3 832.1,1237.8 833.1,1238.8 834.1,1238 835.1,1239.2 836.1,1237.8 837.1,1238.7 838.1,1237.8 839.1,1239.4 840.1,1237.8 841.1,1238.7 842.1,1237.6 843.1,1239.4 844.1,1238 845.1,1239.2 846.1,1238 847.1,1239.1 848.1,1237.9 849.1,1238.9 850.1,1238.1 851.1,1238.9 852.1,1238.2 853.1,1239 854.1,1237.8 855.1,1238.9 856.1,1238 857.1,1238.8 858.1,1237.8 859.1,1238.8 860.1,1238.3 861.2,1238.9 862.2,1237.9 863.2,1239.4 864.2,1238.2 865.2,1238.9 866.2,1237.7 867.2,1239.4 868.2,1237.6 869.2,1239 870.2,1238.2 871.2,1239 872.2,1238.3 873.2,1239.2 874.2,1238 875.2,1239 876.2,1238.2 877.2,1239.1 878.2,1238.2 879.2,1239.1 880.2,1238 881.2,1238.9 882.2,1238.4 883.2,1239.2 884.2,1238 885.2,1239 886.2,1238.1 887.2,1239.3 888.2,1237.8 889.2,1239.5 890.2,1238 891.2,1238.9 892.2,1237.7 893.2,1239.4 894.2,1237.6 895.2,1238.9 896.2,1237.9 897.2,1239.4 898.2,1237.7 899.2,1239 900.2,1237.7 901.2,1238.8 902.2,1238.2 903.2,1239 904.2,1238.2 905.2,1238.8 906.2,1237.8 907.2,1239.2 908.2,1238.4 909.2,1239.3 910.2,1237.6 911.2,1239.5 912.2,1237.8 913.2,1239.1 914.2,1238 915.2,1239.4 916.2,1237.7 917.2,1239.4 918.2,1237.7 919.2,1239 920.2,1237.9 921.2,1239 922.2,1238.2 923.2,1238.8 924.2,1237.7 925.2,1238.9 926.2,1237.9 927.2,1238.9 928.2,1238.4 929.2,1238.8 930.2,1238.3 931.2,1238.9 932.2,1238.3 933.2,1239 934.2,1237.8 935.2,1239.1 936.2,1237.9 937.2,1238.9 938.2,1237.6 939.2,1239.3 940.2,1238.4 941.2,1239.4 942.2,1237.9 943.2,1238.9 944.2,1238.4 945.2,1238.9 946.2,1237.9 947.2,1238.9 948.2,1237.8 949.2,1239.1 950.2,1237.8 951.2,1239.2 952.2,1238.3 953.2,1239.3 954.2,1237.8 955.2,1239.1 956.2,1237.8 957.2,1239 958.2,1238.1 959.2,1239.6 960.2,1238.1 961.2,1239.5 962.2,1238.1 963.2,1239.4 964.2,1237.7 965.2,1239.3 966.2,1238 967.2,1239.5 968.2,1237.7 969.2,1239.1 970.2,1238.1 971.2,1239.3 972.2,1237.9 973.2,1239.1 974.2,1237.6 975.2,1239 976.3,1237.7 977.3,1239.3 978.3,1238.1 979.3,1238.9 980.3,1237.7 981.3,1239.2 982.3,1237.6 983.3,1239.5 984.3,1238.3 985.3,1238.8 986.3,1238.2 987.3,1239.3 988.3,1238 989.3,1239.6 990.3,1237.6 991.3,1238.8 992.3,1238.2 993.3,1238.8 994.3,1237.7 995.3,1239 996.3,1238.4 997.3,1239.2 998.3,1238 999.3,1239.3 1000.3,1238.2 1001.3,1239.3 1002.3,1238.1 1003.3,1239.1 1004.3,1237.6 1005.3,1239.1 1006.3,1238 1007.3,1238.8 1008.3,1238 1009.3,1239 1010.3,1237.8 1011.3,1239.4 1012.3,1237.9 1013.3,1239.4 1014.3,1238.1 1015.3,1239.5 1016.3,1237.8 1017.3,1239.1 1018.3,1237.7 1019.3,1239.3 1020.3,1238.2 1021.3,1239.4 1022.3,1237.8 1023.3,1239.1 1024.3,1237.8 1025.3,1239.2 1026.3,1237.7 1027.3,1238.9 1028.3,1238 1029.3,1238.8 1030.3,1238.2 1031.3,1238.8 1032.3,1238 1033.3,1238.6" fill="none" stroke="#1a1aff" stroke-width="2.3" stroke-linejoin="round" opacity="1.0"/>
<polygon points="188.3,1378 189,1300 190.8,1262 196.2,1262 198.2,1300 198.2,1372 196.5,1378" fill="#ff8c8c"/>
<polygon points="248.3,1350 248.5,1324.5 251.3,1324.5 251.3,1350" fill="#ff8c8c"/>
<path d="M103.1,1440.2 103.8,1439 104.5,1441.7 105.2,1438.8 105.9,1440.5 106.6,1438.4 107.3,1441.8 108,1439.2 108.7,1441.2 109.4,1439.8 110.1,1440.8 110.8,1438.7 111.5,1441.6 112.3,1438.9 113,1440.4 113.7,1439.5 114.4,1441.8 115.1,1439.3 115.8,1441.1 116.5,1439.5 117.2,1441.4 117.9,1438.4 118.6,1440.8 119.3,1439.5 120,1440 120.8,1439.6 121.6,1437.4 122.4,1437.4 123.2,1433.9 123.9,1435.1 124.7,1431.8 125.5,1431.4 126.3,1430.9 127,1427.5 127.7,1433.6 128.4,1433.3 129.2,1435 129.9,1434.7 130.6,1438 131.3,1436.3 132,1438 132.7,1439.2 133.4,1437.8 134.2,1439.9 134.9,1438.2 135.6,1439 136.3,1437.5 137,1439.7 137.7,1437.9 138.4,1439.9 139.2,1438.8 139.9,1440.7 140.6,1438.9 141.3,1441.4 142,1438.8 142.8,1441 143.5,1439 144.2,1440.4 144.9,1440.2 145.7,1434.2 146.5,1428.6 147.3,1420.4 148.2,1410.1 149,1401.9 150.3,1425 151.1,1433.1 151.8,1440.2 152.5,1439.3 153.2,1439.8 153.9,1438.1 154.6,1440.2 155.3,1436.1 156,1438.4 156.7,1435.9 157.4,1437.4 158.1,1435.1 158.8,1437.3 159.5,1434 160.2,1435 160.9,1432.6 161.6,1434.5 162.3,1433.2 163.1,1430.4 163.8,1432 164.6,1428.4 165.4,1428.8 166.1,1425.2 166.9,1426.3 167.7,1422.8 168.4,1423.2 169.2,1421.6 170,1420.5 170.7,1422 171.5,1419 172.3,1421 173,1418.1 173.8,1419.3 174.5,1418.9 175.2,1414.6 175.9,1417.2 176.6,1412.5 177.3,1413 178,1408.9 178.7,1411.2 179.4,1406.4 180.1,1408.6 180.8,1405.4 181.5,1402.3 182.2,1404.1 183,1399.4 183.7,1400 184.4,1396.9 185.2,1397.5 185.9,1393.6 186.6,1393.8 187.4,1390.5 188.1,1384 188.9,1379.9 189.7,1371.8 190.4,1362.6 191.2,1354.4 192.5,1300 193.6,1259.3 194.3,1275 195,1290 196.3,1296.4 197,1370.6 197.7,1367.9 198.4,1369.8 199.2,1367.6 199.9,1368.2 200.6,1365.5 201.4,1366.7 202.1,1362.6 202.8,1363.6 203.5,1361.3 204.3,1353.4 205,1353.7 205.7,1344.4 206.4,1344.4 207.2,1336.6 207.9,1334.6 208.7,1342.1 209.4,1341.2 210.2,1349.1 211,1352 211.8,1348.2 212.6,1349.2 213.3,1343.7 214.1,1346.3 214.9,1342.8 215.7,1343.5 216.4,1348.2 217.2,1345.9 217.9,1351.9 218.7,1351 219.4,1356 220.2,1356.7 220.9,1355.7 221.6,1359.7 222.3,1356.8 223,1360.6 223.7,1355.5 224.4,1362 225.1,1359.2 225.8,1363.3 226.5,1360.1 227.2,1363.6 228,1366.5 228.7,1363.7 229.5,1368.9 230.3,1365.5 231,1370.5 231.8,1368.7 232.6,1372.3 233.3,1369.7 234.1,1372.9 234.8,1374.3 235.5,1373.3 236.2,1378.1 236.9,1376.2 237.6,1378.9 238.3,1376.5 239,1380.9 239.7,1379.1 240.4,1383.6 241.1,1382.2 241.9,1382.3 242.6,1385 243.4,1383.8 244.2,1387.8 244.9,1385.6 245.7,1389.1 246.5,1375.5 247.3,1361 248.1,1347.4 248.9,1336 249.7,1324.2 250.7,1360 251.5,1393.8 252.2,1395 252.9,1401.1 253.6,1401.6 254.3,1407.1 255,1410 255.7,1408.4 256.4,1412.8 257.2,1409.8 257.9,1413.9 258.6,1411.3 259.4,1414.4 260.1,1413.5 260.8,1415.7 261.5,1413.8 262.2,1416.3 263,1415.9 263.7,1418.3 264.4,1415.7 265.2,1419.2 265.9,1417.3 266.6,1419.3 267.3,1422 268,1420.3 268.7,1422 269.4,1420.9 270.1,1424.1 270.8,1422.7 271.5,1424.9 272.2,1423.7 272.9,1426.3 273.6,1426.3 274.4,1425.5 275.1,1429.3 275.9,1428.2 276.7,1429.8 277.4,1428.9 278.2,1432.6 279,1430.9 279.7,1432.8 280.5,1433.2 281.2,1432.8 281.9,1435 282.6,1432.6 283.4,1435.1 284.1,1431.6 284.8,1434.5 285.5,1432.5 286.2,1434.5 286.9,1432.3 287.7,1434.8 288.4,1431.6 289.1,1434.9 289.8,1433.2 290.5,1427.1 291.2,1423.8 291.9,1417.2 292.6,1412.3 293.4,1407 294.1,1399.4 294.9,1395 295.7,1405.9 296.5,1420 297.9,1435.5 298.6,1435.2 299.3,1439.2 300,1439.3 300.7,1441.6 301.4,1442.5 302.1,1439.3 302.8,1438.4 303.5,1434.8 304.2,1434 304.9,1430.9 305.7,1421.8 306.5,1413.5 307.2,1422.5 308,1430 308.8,1435.3 309.5,1442.5 310.2,1443.3 310.9,1439.9 311.6,1442.4 312.3,1439.3 313,1440.7 313.7,1439.4 314.4,1439.6 315.1,1437 315.8,1439.1 316.5,1437.1 317.2,1438.8 317.9,1436.2 318.6,1438.2 319.3,1435 320,1435.5 320.7,1433.7 321.4,1429.7 322.1,1429.6 322.8,1425.1 323.5,1425 324.2,1423.3 325,1419.2 325.7,1417 326.6,1424.3 327.5,1430 328.4,1434.7 329.2,1440.2 329.9,1440.5 330.6,1439.8 331.4,1441.1 332.1,1439.8 332.8,1441.9 333.5,1439.1 334.2,1441.2 335,1439.3 335.7,1441.2 336.4,1438.9 337.1,1438.5 337.8,1439 338.6,1440.9 339.3,1438.6 340,1440 340.7,1440.7 341.4,1438.5 342.1,1440.4 342.8,1439.6 343.5,1441.5 344.2,1439.5 344.9,1440.6 345.6,1439.1 346.3,1440.6 347,1438.7 347.7,1440.6 348.4,1439.2 349.1,1440.9 349.8,1438.6 350.5,1441.6 351.2,1438.6 351.9,1440.9 352.6,1438.7 353.3,1441.4 354,1439.3 354.7,1440.9 355.4,1439.6 356.1,1440.7 356.8,1439.3 357.5,1441.4 358.2,1439.7 358.9,1440.5 359.6,1438.4 360.4,1441.2 361.1,1439.1 361.8,1438.5 362.5,1438.5 363.2,1440.4 363.9,1439.5 364.6,1441 365.3,1438.5 366,1440.8 366.7,1439 367.4,1440.9 368.1,1438.3 368.8,1441.8 369.5,1439.6 370.2,1440.9 370.9,1438.2 371.6,1441.2 372.3,1438.4 373,1440.6 373.7,1439.4 374.4,1440.8 375.1,1439.4 375.8,1440.7 376.5,1438.4 377.2,1441.2 377.9,1439.5 378.6,1441 379.3,1439.5 380,1440 380.7,1440.2 381.4,1437.1 382.1,1437.4 382.9,1433.8 383.6,1435.8 384.3,1432.8 385,1432 385.7,1432.4 386.5,1429.3 387.2,1429.7 388,1427.5 388.7,1427.6 389.4,1430.5 390.1,1428.5 390.9,1433.6 391.6,1431.8 392.3,1436.2 393,1436 393.7,1435.2 394.4,1437.9 395.1,1436.8 395.8,1438.4 396.5,1436.5 397.2,1439.1 397.9,1438.1 398.6,1439.6 399.3,1438.3 400,1440 400.7,1441.6 401.4,1438.4 402.1,1441.2 402.9,1438.9 403.6,1440.6 404.3,1438.9 405,1440.3 405.7,1439.5 406.4,1441.6 407.1,1438.8 407.9,1440.4 408.6,1438.9 409.3,1440.8 410,1439.4 410.7,1440.7 411.4,1438.4 412.1,1441.2 412.9,1439.4 413.6,1441.1 414.3,1438.4 415,1440.9 415.7,1438.9 416.4,1440.7 417.1,1438.8 417.9,1440.6 418.6,1439.6 419.3,1441.2 420,1440 420.7,1438.7 421.4,1439.9 422.1,1436.5 422.9,1438.3 423.6,1434.8 424.3,1437.5 425,1433.4 425.7,1435.9 426.4,1432.7 427.2,1433.7 427.9,1431.9 428.6,1433 429.3,1431 430.1,1431 430.9,1435.6 431.6,1434.1 432.4,1438.8 433.2,1436.7 434,1440 434.7,1440.3 435.4,1439.1 436.1,1440.5 436.9,1438 437.6,1440.2 438.3,1438.3 439,1440.2 439.7,1437.5 440.4,1440.5 441.1,1438.2 441.9,1439.8 442.6,1437.8 443.3,1439 444,1438 444.7,1434.2 445.4,1434.6 446.2,1430.3 446.9,1430.9 447.6,1427.6 448.5,1429.4 449.3,1433.9 450.1,1434.5 451,1438 451.7,1439.3 452.4,1437.4 453.1,1439.1 453.8,1437 454.5,1439.9 455.2,1437.4 455.9,1438.5 456.6,1435.8 457.3,1439.3 458,1437.3 458.7,1439 459.4,1437.5 460.1,1438.9 460.9,1436.8 461.6,1439.6 462.3,1437.7 463,1439.6 463.7,1437 464.4,1440 465.1,1438.4 465.8,1439.7 466.5,1437.3 467.2,1439.7 467.9,1437.4 468.6,1439.4 469.3,1438 470,1439 470.7,1440.5 471.4,1437.5 472.1,1439.1 472.9,1436.5 473.6,1438.1 474.3,1436.9 475,1438.7 475.7,1433.4 476.4,1438.2 477.1,1435.6 477.9,1437.6 478.6,1435.2 479.3,1436.2 480,1435 480.7,1430.3 481.4,1430.2 482.1,1424.3 482.8,1422.3 483.5,1428.2 484.3,1431 485,1436 485.7,1437.4 486.4,1436.1 487.1,1439.5 487.9,1437.1 488.6,1440 489.3,1439 490,1440 490.7,1438.8 491.4,1439.1 492.1,1441.2 492.9,1439.6 493.6,1440.3 494.3,1437.5 495,1441 495.7,1438.3 496.4,1441.1 497.1,1438.3 497.9,1441.8 498.6,1439.5 499.3,1440.4 500,1438.6 500.7,1440.9 501.4,1439.3 502.1,1441.5 502.9,1439.2 503.6,1441.1 504.3,1439 505,1440.4 505.7,1439.5 506.4,1440.7 507.1,1438.5 507.9,1440.7 508.6,1438.8 509.3,1441.2 510,1439.3 510.7,1440.9 511.4,1439.5 512.1,1440.4 512.9,1437.6 513.6,1441.5 514.3,1438.4 515,1441.2 515.7,1438.6 516.4,1441.2 517.1,1438.3 517.9,1440.4 518.6,1439.6 519.3,1441 520,1440 520.7,1437.4 521.5,1438.6 522.2,1435.7 522.9,1437.8 523.6,1432.1 524.4,1435.6 525.1,1433.6 525.9,1433.6 526.7,1436.4 527.5,1435 528.4,1438.3 529.2,1438.5 530,1440 530.7,1441.2 531.4,1439.5 532.1,1441 532.9,1439 533.6,1441.7 534.3,1439.3 535,1441.1 535.7,1438.9 536.4,1440.9 537.1,1438.4 537.9,1440.4 538.6,1439.2 539.3,1440.7 540,1438.7 540.7,1440.4 541.4,1439.2 542.1,1441.2 542.9,1438.8 543.6,1441.8 544.3,1438.8 545,1440.7 545.7,1439.2 546.4,1440.4 547.1,1439.1 547.9,1440.4 548.6,1439.5 549.3,1441.5 550,1440 550.7,1438.3 551.5,1439.7 552.2,1437.9 552.9,1438.3 553.7,1435.9 554.4,1436.4 555.1,1438.6 555.8,1436.9 556.5,1438.2 557.2,1437.8 557.9,1439.8 558.6,1438.4 559.3,1441.3 560,1440 560.7,1439.4 561.4,1441.7 562.1,1438.8 562.9,1440.8 563.6,1438.9 564.3,1440.4 565,1439 565.7,1441.7 566.4,1439 567.1,1441.4 567.9,1439 568.6,1441.2 569.3,1439.4 570,1441.4 570.7,1438.2 571.4,1440.5 572.1,1439 572.9,1441.6 573.6,1438.7 574.3,1441.2 575,1439.2 575.7,1441.4 576.4,1438.6 577.1,1441.2 577.9,1439 578.6,1441.7 579.3,1439.2 580,1440 580.8,1439.8 581.5,1437.7 582.3,1438.4 583,1435.8 583.8,1436.9 584.6,1435.2 585.3,1436.6 586.1,1434.6 586.8,1433.7 587.6,1436.8 588.3,1435.6 589,1438.5 589.8,1437.5 590.5,1438.9 591.3,1437.9 592,1440 592.7,1440.3 593.4,1439 594.1,1440.6 594.8,1438.5 595.5,1441.6 596.2,1439.2 596.9,1440.7 597.6,1439.8 598.3,1441.3 599,1439.1 599.7,1440.9 600.4,1439.3 601.2,1441.6 601.9,1438.9 602.6,1440.9 603.3,1439.7 604,1440.5 604.7,1439.8 605.4,1441.2 606.1,1439.3 606.8,1440.6 607.5,1438.8 608.2,1441.8 608.9,1438.9 609.6,1438.7 610.3,1438.5 611,1440.7 611.7,1439.9 612.4,1440.8 613.1,1440.1 613.8,1441.1 614.5,1439.5 615.2,1442.2 615.9,1439.1 616.6,1441.3 617.3,1437.5 618,1441.9 618.8,1438.9 619.5,1441.9 620.2,1438.8 620.9,1441.4 621.6,1439.3 622.3,1441.9 623,1440 623.7,1441.2 624.4,1439.1 625.1,1441.7 625.8,1439.8 626.5,1441.8 627.2,1440.1 627.9,1440.9 628.6,1439.7 629.3,1441 630,1439 630.7,1441.5 631.4,1440.3 632.1,1441 632.8,1439.6 633.5,1441.8 634.2,1439.8 634.9,1442 635.6,1440.3 636.4,1441.8 637.1,1440.2 637.8,1442.4 638.5,1439.8 639.2,1442.1 639.9,1440.5 640.6,1441.8 641.3,1439.3 642,1441.7 642.7,1440.5 643.4,1441.3 644.1,1439.3 644.8,1441.3 645.5,1440 646.2,1441.5 646.9,1440 647.6,1442.3 648.3,1440.3 649,1441.8 649.7,1440.3 650.4,1441.9 651.1,1440.7 651.8,1441.7 652.5,1440.1 653.2,1442.7 654,1439.8 654.7,1442.7 655.4,1440.5 656.1,1441.8 656.8,1440.1 657.5,1442.2 658.2,1440.1 658.9,1442.5 659.6,1440.3 660.3,1441.7 661,1439.6 661.7,1442.1 662.4,1440.1 663.1,1442.2 663.8,1441 664.5,1442.7 665.2,1441 665.9,1442.6 666.6,1440.1 667.3,1442.3 668,1440.6 668.7,1442.4 669.4,1439.9 670.1,1443 670.8,1440.4 671.6,1442.7 672.3,1439.8 673,1442.9 673.7,1439.8 674.4,1443.1 675.1,1441 675.8,1442.9 676.5,1440.8 677.2,1442.4 677.9,1440.7 678.6,1442.8 679.3,1440.4 680,1441.6 680.7,1442.3 681.4,1440 682.1,1442.1 682.8,1440.3 683.5,1443.1 684.2,1440.6 684.9,1442.6 685.6,1439.6 686.3,1442.3 687,1440.2 687.7,1441.8 688.4,1439.7 689.1,1442.1 689.8,1440.6 690.5,1442.8 691.2,1440.4 691.9,1441.4 692.6,1439.5 693.3,1442.5 694,1440.2 694.7,1441.5 695.4,1440.3 696.1,1440 696.8,1439.2 697.5,1442.1 698.2,1439 698.9,1441.5 699.6,1439.9 700.3,1441.2 701,1440.1 701.7,1441.1 702.4,1438.7 703.1,1442 703.8,1439.2 704.5,1441.2 705.2,1439.1 705.9,1441.7 706.6,1437.5 707.3,1439.1 708,1439.5 708.7,1441.4 709.4,1439.4 710.1,1440.6 710.8,1439.6 711.5,1441.3 712.2,1438.9 712.9,1441.1 713.6,1439.5 714.3,1440.8 715,1439.4 715.7,1440.6 716.4,1438.7 717.1,1440.4 717.8,1438.5 718.5,1440.4 719.2,1438.6 719.9,1440.8 720.6,1438.6 721.3,1440 722,1435.6 722.7,1440.1 723.4,1438.7 724.1,1440.2 724.8,1438.9 725.5,1440.6 726.2,1438.9 726.9,1439.9 727.6,1438.2 728.3,1440.1 729,1438.6 729.7,1440.4 730.4,1437.9 731.1,1440.7 731.8,1438.6 732.5,1440.2 733.2,1437.5 733.9,1440.1 734.6,1437.5 735.3,1440.1 736,1437.4 736.7,1439.9 737.4,1438.3 738.1,1439.2 738.8,1437.5 739.5,1440 740.2,1436.8 740.9,1439.6 741.6,1437.7 742.3,1440.2 743,1436.9 743.7,1439.4 744.4,1436.7 745.1,1439.3 745.8,1436.9 746.5,1439.7 747.2,1437.8 747.9,1439.8 748.6,1436.6 749.3,1439.5 750,1438 750.7,1436.7 751.4,1439.6 752.1,1436.2 752.8,1439 753.5,1436.9 754.2,1439.8 754.9,1436.9 755.6,1438.6 756.4,1437.3 757.1,1439.5 757.8,1436.7 758.5,1439.7 759.2,1437.2 759.9,1437.4 760.6,1437.5 761.3,1439.5 762,1437.2 762.7,1438.7 763.4,1437 764.1,1439.1 764.8,1437.5 765.5,1438.4 766.2,1436.5 766.9,1439.6 767.6,1436.3 768.4,1439.7 769.1,1437.7 769.8,1439.8 770.5,1436.6 771.2,1438.3 771.9,1437 772.6,1439.7 773.3,1436.2 774,1438.7 774.7,1437.1 775.4,1439 776.1,1436.3 776.8,1438.8 777.5,1437.3 778.2,1438.4 778.9,1436.2 779.6,1439.1 780.4,1436.7 781.1,1438.8 781.8,1437.7 782.5,1436.5 783.2,1437.2 783.9,1438.8 784.6,1437.4 785.3,1439 786,1438 786.7,1437.8 787.4,1439.5 788.1,1437.2 788.8,1440.4 789.5,1437.6 790.2,1440 790.9,1438.1 791.6,1440.1 792.3,1438.5 793,1440.8 793.7,1438.3 794.4,1441.6 795.1,1438.6 795.8,1441.5 796.5,1440 797.2,1441.6 797.9,1439.5 798.6,1442.6 799.3,1440.7 800,1441.6 800.7,1443.3 801.4,1441.3 802.1,1442.4 802.8,1441 803.5,1442.4 804.2,1440.7 804.9,1442.8 805.6,1439.9 806.3,1443.2 807,1441 807.7,1443 808.4,1440.6 809.1,1442.5 809.8,1441 810.5,1441.9 811.2,1439.9 811.9,1442.5 812.6,1440.1 813.3,1442.1 814,1439.9 814.7,1442.6 815.4,1440.4 816.1,1442.3 816.8,1440.4 817.5,1442.6 818.2,1440.6 818.9,1442.5 819.6,1439.9 820.3,1442.8 821,1440.2 821.7,1442.5 822.4,1441.3 823.1,1442.4 823.8,1438.9 824.5,1442.4 825.2,1440.3 825.9,1442.9 826.6,1439.8 827.3,1442.8 828,1440.9 828.7,1442.8 829.4,1441.1 830.1,1442.3 830.8,1440.2 831.5,1442.3 832.2,1439.8 832.9,1442.6 833.6,1440.3 834.3,1442 835,1440.4 835.7,1443.4 836.4,1440 837.1,1442.6 837.8,1440.6 838.5,1443 839.2,1441.1 839.9,1442.7 840.6,1440.5 841.3,1442.8 842,1441.1 842.7,1442.4 843.4,1440.1 844.1,1443 844.8,1441.1 845.5,1442.2 846.2,1440.3 846.9,1441.9 847.6,1440.1 848.3,1443.4 849,1440.2 849.7,1442.8 850.4,1441 851.1,1442.8 851.8,1440.4 852.5,1442.9 853.2,1440.7 853.9,1442.9 854.6,1441.3 855.3,1442.4 856,1440.3 856.7,1443.1 857.4,1440.8 858.1,1442.9 858.8,1437.8 859.5,1443.2 860.2,1441 860.9,1442.7 861.6,1440.8 862.3,1442.9 863,1440.8 863.7,1442.1 864.4,1441.2 865.1,1442.1 865.8,1439.9 866.5,1443 867.2,1441 867.9,1443.4 868.6,1439.9 869.3,1442.9 870,1440.2 870.7,1442.8 871.4,1440.4 872.1,1442.8 872.8,1441 873.5,1440.1 874.2,1440.9 874.9,1442 875.6,1440.3 876.3,1442.8 877,1440.1 877.7,1442.8 878.4,1440.1 879.1,1442 879.8,1437.2 880.5,1442.8 881.2,1440.3 881.9,1442 882.6,1440.2 883.3,1442.3 884,1439.9 884.7,1442.2 885.4,1439.8 886.1,1442.2 886.8,1440.7 887.5,1442.9 888.2,1440.4 888.9,1442.2 889.6,1440.7 890.3,1442.1 891,1440.9 891.7,1442 892.4,1439.8 893.1,1443.1 893.8,1440.3 894.5,1442.5 895.2,1440.9 895.9,1442.1 896.6,1440.5 897.3,1442.3 898,1441.2 898.7,1442 899.4,1440.9 900.1,1442.3 900.8,1439.9 901.5,1442.2 902.2,1440.6 902.9,1442.6 903.6,1440.9 904.3,1442.4 905,1440.2 905.7,1441.9 906.4,1440.7 907.1,1440.7 907.8,1440 908.5,1442.9 909.2,1440.4 909.9,1443.1 910.6,1440.6 911.3,1442.7 912,1440.9 912.7,1442.6 913.4,1439.8 914.1,1443.3 914.8,1441.2 915.5,1443.1 916.2,1440.9 917,1442.3 917.7,1441.1 918.4,1442.2 919.1,1440.4 919.8,1443.1 920.5,1440 921.2,1443 921.9,1440.7 922.6,1442.5 923.3,1440.7 924,1442.8 924.7,1441 925.4,1443.1 926.1,1440.9 926.8,1442.6 927.5,1439.9 928.2,1442.3 928.9,1440.6 929.6,1442.5 930.3,1440.3 931,1443.2 931.7,1440.7 932.4,1442.7 933.1,1440.5 933.8,1442.2 934.5,1440.1 935.2,1442.4 935.9,1440.4 936.6,1442.3 937.3,1440.7 938,1443.2 938.7,1440.5 939.4,1442.9 940.1,1441 940.8,1442.1 941.5,1440.9 942.2,1442.6 942.9,1441.1 943.6,1441.9 944.3,1440.2 945,1442.2 945.7,1439.8 946.4,1443 947.1,1439.8 947.8,1443.2 948.5,1441.1 949.2,1442.9 949.9,1441.2 950.6,1443.3 951.3,1441.2 952,1443.4 952.7,1440.2 953.4,1442.8 954.1,1440.6 954.8,1442.1 955.5,1440.2 956.2,1442.1 956.9,1440.3 957.6,1442.6 958.3,1440.2 959,1443 959.7,1440.6 960.4,1442.6 961.1,1440.6 961.8,1443.1 962.5,1440.3 963.2,1442.4 963.9,1439.9 964.6,1442.8 965.3,1440.6 966,1443.2 966.7,1440 967.4,1443.1 968.1,1441.1 968.8,1442.8 969.5,1440 970.2,1442.9 970.9,1440.8 971.6,1442.7 972.3,1440.5 973,1442.9 973.7,1440.3 974.4,1442.4 975.1,1440.8 975.8,1442.5 976.5,1440.9 977.2,1442.4 977.9,1440 978.6,1442.5 979.3,1440 980,1442.2 980.7,1440.6 981.4,1442.2 982.1,1441.1 982.8,1442.8 983.5,1439.9 984.2,1442.9 984.9,1440.2 985.6,1443.2 986.3,1440.3 987,1442.9 987.7,1440.8 988.4,1442.4 989.1,1441.3 989.8,1442.3 990.5,1440 991.2,1440.2 991.9,1440.2 992.6,1442.9 993.3,1440.8 994,1441.9 994.7,1440.2 995.4,1442.2 996.1,1440.6 996.8,1443 997.5,1440.1 998.2,1442.1 998.9,1440.1 999.6,1442.5 1000.3,1440.9 1001,1443.4 1001.7,1439.9 1002.4,1443.4 1003.1,1441 1003.8,1442.1 1004.5,1440.5 1005.2,1442.6 1005.9,1439.9 1006.6,1442.2 1007.3,1440.4 1008,1443.4 1008.7,1440.4 1009.4,1442.7 1010.1,1440.8 1010.8,1442.7 1011.5,1440.3 1012.2,1442.8 1012.9,1440.6 1013.6,1442.8 1014.3,1439.9 1015,1443.1 1015.7,1440.2 1016.4,1442.6 1017.1,1441 1017.8,1442.2 1018.5,1440.1 1019.2,1441.9 1019.9,1440.3 1020.6,1442.4 1021.3,1441.1 1022,1443.1 1022.7,1440.5 1023.4,1441.9 1024.1,1440.7 1024.8,1442 1025.5,1440.3 1026.2,1442.9 1026.9,1440.4 1027.6,1442.5 1028.3,1439.9 1029,1443.1 1029.7,1440.8 1030.4,1442.3 1031.1,1440.5 1031.8,1442 1032.5,1441.6" fill="none" stroke="#ff0a0a" stroke-width="2.4" stroke-linejoin="round" opacity="1.0"/>
<polygon points="190.9,1521 191.2,1487 197.5,1487 197.5,1521" fill="#9a9a9a"/>
<polygon points="247.4,1532 247.6,1494.5 251.8,1494.5 251.8,1532" fill="#9a9a9a"/>
<path d="M103.1,1642.5 103.7,1640.6 104.3,1643.6 104.9,1641.9 105.5,1643.4 106.1,1641 106.7,1642.8 107.3,1640.2 107.9,1643.1 108.5,1641 109.1,1643.5 109.7,1639.7 110.3,1643.4 110.9,1640.8 111.5,1643.1 112.2,1640.6 112.8,1642.6 113.4,1638.8 114,1641.6 114.6,1639.8 115.2,1642.8 115.8,1639.1 116.4,1642.4 117,1640.1 117.6,1641.8 118.2,1638.8 118.8,1642.2 119.4,1639.5 120,1640 120.6,1640.7 121.2,1638.2 121.8,1639.9 122.5,1633.7 123.1,1639 123.7,1636.2 124.3,1639 124.9,1636.6 125.5,1639.8 126.1,1636 126.7,1638 127.4,1635.8 128,1638.5 128.6,1633.9 129.2,1637.8 129.8,1635.5 130.4,1634.3 131,1637.7 131.6,1635.6 132.2,1637.2 132.8,1634.6 133.4,1637.1 134,1635.4 134.6,1638 135.2,1635.2 135.8,1638.7 136.4,1636.2 137.1,1639.2 137.7,1637.5 138.3,1639.3 138.9,1637.6 139.5,1641 140.1,1637.9 140.7,1640.1 141.3,1638.1 141.9,1641.7 142.5,1639.4 143.1,1640.4 143.7,1640.2 144.4,1636.3 145,1637.9 145.7,1631.8 146.3,1632.5 147,1630 147.6,1623.8 148.2,1622.9 148.9,1615.7 149.5,1613.5 150.2,1622.3 151,1630 151.7,1631.5 152.3,1636.8 153,1637.8 153.6,1636.1 154.3,1636.3 154.9,1633 155.5,1635.8 156.2,1630.8 156.8,1633.6 157.5,1628.8 158.1,1631.7 158.7,1627 159.4,1629.4 160,1626.3 160.6,1622.4 161.3,1624.7 161.9,1620.4 162.5,1622.4 163.1,1616.6 163.8,1618.5 164.4,1615.3 165,1615.5 165.6,1611.5 166.3,1612 166.9,1610 167.5,1606.3 168.2,1609.3 168.8,1605.3 169.4,1605.5 170,1601.2 170.7,1604.7 171.3,1600.5 171.9,1600.7 172.5,1596.9 173.2,1598 173.8,1596.1 174.5,1591.8 175.1,1593.5 175.8,1587.8 176.5,1589 177.2,1583.3 177.8,1584.4 178.5,1579.9 179.1,1575.4 179.7,1576.1 180.3,1569.5 180.9,1571.6 181.5,1564.9 182.1,1565.9 182.7,1557.2 183.3,1558.5 184,1559.3 184.7,1551.4 185.3,1554.1 186,1550 186.8,1543.1 187.5,1547.5 188.3,1541.8 189,1536.5 189.6,1535.4 190.2,1525.4 190.9,1523.5 191.7,1508 192.4,1491.7 193.1,1476.1 193.8,1461.7 194.8,1495 195.7,1506.1 196.5,1516 197.1,1510.3 197.8,1516.8 198.4,1508.5 199,1512 199.6,1516 200.2,1511.6 200.8,1514.2 201.4,1509.6 202,1514 202.7,1513 203.4,1505 204,1493 204.7,1489.6 205.3,1492.3 206,1484.7 206.7,1488 207.3,1489.2 207.9,1484.7 208.6,1490.5 209.2,1481.2 209.8,1489.5 210.4,1480.5 211.1,1486.3 211.7,1483 212.4,1473.5 213,1488.1 213.7,1477.5 214.3,1482 215,1482 215.6,1481.6 216.2,1484.2 216.9,1481.1 217.5,1486.6 218.1,1478.6 218.8,1488.3 219.4,1481.2 220,1485.5 220.6,1488.3 221.2,1481.7 221.9,1490.4 222.5,1484.4 223.1,1493.3 223.8,1487.8 224.4,1492.9 225,1490.5 225.6,1488 226.2,1496.7 226.9,1488.1 227.5,1495.2 228.1,1489.6 228.8,1497.6 229.4,1494.6 230,1496.8 230.6,1502.5 231.2,1497.9 231.8,1500.8 232.5,1496.3 233.1,1502.7 233.7,1501.1 234.3,1503.4 235,1509.3 235.7,1501.2 236.4,1511.8 237,1506.6 237.7,1514.8 238.4,1511.8 239.1,1509.7 239.8,1520.7 240.5,1517.6 241.2,1524.5 241.9,1522.3 242.6,1526 243.3,1528.6 244,1525.1 244.6,1535 245.3,1530.7 246,1533.4 246.8,1533 247.6,1530 248.4,1502 249.5,1495 250.2,1506.4 251,1520 251.8,1547.4 252.4,1551.3 253,1548.9 253.6,1557.4 254.2,1555 254.9,1563.6 255.5,1559.8 256.1,1568.1 256.7,1562.8 257.3,1570.6 258,1572.6 258.6,1571.3 259.3,1576 260,1574.2 260.7,1578.1 261.3,1576.9 262,1579.9 262.6,1582.6 263.3,1581.3 263.9,1585.5 264.5,1583.7 265.1,1586.1 265.8,1586.7 266.4,1593.5 267,1592.5 267.6,1597.7 268.3,1593.9 268.9,1598.4 269.5,1600.6 270.2,1599.1 270.8,1604.4 271.4,1599.6 272.1,1604.2 272.7,1602.6 273.4,1606.2 274,1605.1 274.6,1608.8 275.3,1608.5 275.9,1610 276.6,1612.5 277.2,1612.1 277.9,1616.1 278.5,1614.4 279.2,1618.5 279.8,1615.5 280.5,1619.3 281.1,1621 281.8,1618.5 282.4,1623.1 283,1621.5 283.7,1624.1 284.3,1622.7 285,1626.9 285.6,1624.3 286.2,1628.3 286.9,1625.6 287.5,1628.6 288.2,1628.5 288.8,1625.6 289.5,1626.8 290.1,1623 290.8,1624.4 291.4,1620.7 292.1,1621.6 292.8,1619.1 293.5,1612.3 294.2,1610 294.9,1604.2 295.7,1616.9 296.5,1630 297.2,1636.4 297.9,1642.5 298.5,1641 299.2,1642.8 299.8,1639.1 300.4,1641.1 301.1,1638 301.7,1638.2 302.4,1637.2 303,1638 303.6,1636.3 304.2,1631.7 304.8,1633.2 305.4,1626.6 306,1626.3 306.7,1631.3 307.3,1634.4 308,1640 308.8,1643.2 309.5,1644.8 310.1,1643.8 310.7,1644.4 311.4,1642.7 312,1644.8 312.6,1641.6 313.2,1643.9 313.8,1641.3 314.4,1643.2 315.1,1640.4 315.7,1642.2 316.3,1638.9 316.9,1640.7 317.5,1637.8 318.1,1640.3 318.8,1638.2 319.4,1640.5 320,1638 320.6,1635.4 321.3,1637.6 321.9,1633 322.5,1633.9 323.2,1630.3 323.8,1631.2 324.4,1627.5 325.1,1629.9 325.7,1626.3 326.5,1628.6 327.2,1635.4 328,1638 329.2,1640.2 329.8,1639 330.4,1640.6 331,1638.7 331.6,1641.8 332.2,1638.3 332.8,1641.5 333.5,1639.2 334.1,1641.5 334.7,1638.7 335.3,1641.2 335.9,1638.7 336.5,1642.1 337.1,1638 337.7,1641 338.3,1639.2 338.9,1641.7 339.5,1639.5 340.1,1637.7 340.7,1639.8 341.4,1640.6 342,1638.8 342.6,1642.3 343.2,1639.5 343.8,1640.7 344.4,1639.4 345,1640.2 345.6,1641.4 346.2,1639.2 346.8,1642.1 347.5,1639.5 348.1,1642.3 348.7,1639.2 349.3,1642.7 349.9,1638.4 350.5,1638.3 351.1,1638.7 351.7,1641.2 352.4,1639.1 353,1643 353.6,1639.4 354.2,1641.8 354.8,1639.7 355.4,1640.3 356,1639.6 356.6,1640.6 357.3,1639.7 357.9,1641.8 358.5,1639.7 359.1,1642.6 359.7,1640.1 360.3,1643.2 360.9,1639.2 361.5,1642 362.2,1640.5 362.8,1642.5 363.4,1640.3 364,1641.5 364.6,1642 365.2,1639.3 365.8,1641.7 366.4,1639.5 367,1641.5 367.6,1639.5 368.2,1641.4 368.9,1638.1 369.5,1639.2 370.1,1637.8 370.7,1639.3 371.3,1637.8 371.9,1640.5 372.5,1637.1 373.1,1638.6 373.7,1635.5 374.3,1638.4 374.9,1636.7 375.5,1637.6 376.1,1635.3 376.8,1638.1 377.4,1635.6 378,1636.9 378.6,1631.2 379.2,1636.7 379.8,1633.4 380.4,1636.4 381,1635 381.6,1632.9 382.2,1636.5 382.8,1633.2 383.4,1635.5 384,1633.9 384.6,1635.5 385.3,1633.8 385.9,1636.3 386.5,1633.7 387.1,1634.7 387.7,1633 388.3,1634.9 388.9,1632.4 389.5,1635.6 390.1,1632.3 390.7,1634.6 391.3,1633.1 391.9,1634.8 392.5,1632.9 393.2,1634.5 393.8,1631.6 394.4,1633.8 395,1632.4 395.6,1635 396.2,1632.7 396.8,1635 397.4,1632.5 398,1634.6 398.6,1630.8 399.2,1633.4 399.8,1632.2 400.5,1634.2 401.1,1631.5 401.7,1633.5 402.3,1631.4 402.9,1633.9 403.5,1631.5 404.1,1633.2 404.7,1631.5 405.3,1633.4 405.9,1630.3 406.5,1632.6 407.1,1630.6 407.7,1632.7 408.4,1630.3 409,1632.4 409.6,1630.5 410.2,1633.4 410.8,1630.3 411.4,1633.2 412,1631 412.6,1628.9 413.2,1631.7 413.8,1627.7 414.4,1631.7 415,1630.6 415.7,1632.3 416.3,1629.1 416.9,1632.1 417.5,1629.9 418.1,1632.7 418.7,1628.7 419.3,1633.5 419.9,1629.5 420.5,1634.3 421.1,1630.7 421.7,1633.6 422.3,1630.1 423,1633.9 423.6,1629.8 424.2,1633.9 424.8,1626.1 425.4,1631.1 426,1628.3 426.6,1633.7 427.2,1630.8 427.8,1633.8 428.4,1631.7 429,1633.6 429.7,1631.6 430.3,1634 430.9,1632.2 431.5,1634 432.1,1632.7 432.7,1635.2 433.3,1632 433.9,1633.8 434.5,1631.6 435.1,1634.3 435.7,1632.6 436.3,1634.1 437,1631.7 437.6,1634.3 438.2,1632.4 438.8,1635 439.4,1631.9 440,1634 440.6,1635 441.2,1632.2 441.8,1635.7 442.4,1633 443,1636.9 443.6,1633.3 444.2,1635.9 444.8,1634.7 445.5,1636.5 446.1,1635.4 446.7,1637.8 447.3,1633.9 447.9,1638.2 448.5,1632 449.1,1638.2 449.7,1635 450.3,1635.3 450.9,1633.6 451.5,1638 452.1,1637 452.7,1639.2 453.3,1637.2 453.9,1639.7 454.5,1636.4 455.2,1640.6 455.8,1637.7 456.4,1638.1 457,1637.4 457.6,1641 458.2,1637.7 458.8,1640.5 459.4,1637.8 460,1640 460.6,1640.7 461.2,1637.9 461.8,1640.6 462.4,1638.4 463,1641.1 463.6,1639.1 464.2,1641.1 464.8,1638.2 465.4,1640.7 466,1635.7 466.6,1641.5 467.2,1637.4 467.8,1640.7 468.4,1638.1 469,1641.3 469.6,1638.3 470.2,1640.1 470.8,1636.8 471.4,1641.1 472,1637.8 472.6,1640.5 473.2,1637.2 473.8,1640.6 474.4,1638.2 475,1637.1 475.6,1636.8 476.2,1640 476.8,1637.1 477.4,1640.3 478,1637.1 478.6,1639.3 479.2,1637.4 479.8,1638.5 480.4,1636.5 481,1638 481.7,1636.7 482.4,1630.6 483,1631.2 483.7,1626 484.5,1627.6 485.2,1634.7 486,1638 486.6,1637.5 487.2,1639.5 487.8,1636.9 488.4,1640.8 489,1637.1 489.6,1640.8 490.2,1637.8 490.8,1641.7 491.4,1637.8 492,1640.5 492.6,1638.2 493.2,1641.5 493.8,1639.8 494.4,1642.1 495,1639.8 495.6,1642.4 496.2,1640 496.8,1643.6 497.4,1640.2 498,1642.7 498.6,1641.3 499.2,1644 499.8,1642 500.4,1645 501,1641.3 501.6,1643.2 502.2,1644.9 502.8,1641 503.4,1644.1 504,1642.6 504.6,1644.8 505.2,1642.1 505.8,1644.4 506.4,1641.1 507,1644.7 507.6,1641.6 508.2,1645.3 508.8,1642.8 509.4,1645.3 510,1642 510.7,1644.9 511.3,1642.8 511.9,1641.1 512.5,1641.7 513.1,1644.6 513.7,1642 514.3,1644.4 514.9,1642.6 515.5,1641.9 516.1,1642.8 516.7,1644 517.3,1642.1 517.9,1643.6 518.5,1642.1 519.1,1644.6 519.7,1642.7 520.3,1644.1 520.9,1641.7 521.5,1644.6 522.1,1642.4 522.7,1645.2 523.3,1641.9 523.9,1645.2 524.5,1641.9 525.1,1645 525.7,1641.5 526.3,1645 526.9,1642.5 527.6,1644 528.2,1642.8 528.8,1640.7 529.4,1642.2 530,1644.8 530.6,1642 531.2,1643.8 531.8,1642.7 532.4,1644.4 533,1642.2 533.6,1645.1 534.2,1641.2 534.8,1643.9 535.4,1641.1 536,1643.2 536.6,1645.1 537.2,1641.3 537.8,1644.3 538.4,1641 539,1642.7 539.6,1640.3 540.2,1642.3 540.9,1640.9 541.5,1640.8 542.1,1639.8 542.7,1643.3 543.3,1640.5 543.9,1642.9 544.5,1640 545.1,1642.1 545.7,1639.5 546.3,1639 546.9,1638.5 547.5,1640.5 548.1,1639 548.8,1640.5 549.4,1638.5 550,1640.3 550.6,1638 551.2,1640 551.8,1637.8 552.4,1639.8 553,1638 553.6,1637.4 554.2,1638.8 554.8,1636.3 555.4,1640.4 556,1635.5 556.6,1639.2 557.2,1637.7 557.9,1639.9 558.5,1637.6 559.1,1641.3 559.7,1638.3 560.3,1641.1 560.9,1638.7 561.5,1641.2 562.1,1638 562.7,1640.8 563.3,1638.3 563.9,1641.8 564.5,1639.3 565.1,1638.6 565.8,1639.1 566.4,1641.9 567,1639.2 567.6,1641.5 568.2,1639.3 568.8,1643 569.4,1639.2 570,1641.5 570.6,1641.8 571.2,1640.8 571.8,1642 572.4,1639.6 573,1642.5 573.6,1639.8 574.2,1642.3 574.8,1641.2 575.4,1642.7 576,1636.9 576.6,1642.1 577.2,1640.8 577.8,1642.5 578.4,1639.9 579,1639.4 579.6,1640.7 580.2,1643.2 580.8,1639.4 581.4,1642.8 582,1640.8 582.6,1641.9 583.2,1640.8 583.8,1642.5 584.4,1640.3 585,1642 585.6,1641 586.2,1643.1 586.9,1640.9 587.5,1642.8 588.1,1640.9 588.7,1642.7 589.3,1639.9 589.9,1642.7 590.5,1639.9 591.1,1643.7 591.7,1640.4 592.3,1642.9 592.9,1639.4 593.5,1642.9 594.1,1639.8 594.7,1643.2 595.3,1640.6 595.9,1643.2 596.5,1639.9 597.1,1642.6 597.7,1638 598.3,1642.4 598.9,1640.8 599.5,1642.7 600.1,1639.8 600.7,1643.3 601.3,1639.6 601.9,1643.7 602.5,1641.1 603.1,1643 603.7,1641.3 604.3,1643.4 604.9,1639.7 605.5,1643.4 606.1,1640 606.7,1642.1 607.3,1641.2 607.9,1642.3 608.5,1639.8 609.1,1643.8 609.7,1641.1 610.3,1642.6 610.9,1640.7 611.5,1643 612.1,1640.1 612.7,1642.8 613.3,1639.5 613.9,1643.5 614.5,1640.7 615.1,1643.1 615.7,1640.8 616.3,1642.8 616.9,1640.4 617.5,1643.3 618.1,1640 618.8,1642.5 619.4,1640.1 620,1642.2 620.6,1637.2 621.2,1643.9 621.8,1639.9 622.4,1642.7 623,1641.2 623.6,1643.2 624.2,1640.2 624.8,1643.9 625.4,1640.7 626,1642.7 626.6,1641.4 627.2,1643.5 627.8,1640.6 628.4,1642.5 629,1639.9 629.6,1643 630.2,1640.3 630.8,1642.6 631.4,1640.1 632,1642.6 632.6,1639.8 633.2,1642.2 633.8,1641.1 634.4,1642.4 635,1641.3 635.6,1642.7 636.2,1640.5 636.8,1643.4 637.4,1640.9 638,1643 638.6,1641.2 639.2,1642.4 639.8,1640.9 640.4,1643.7 641,1640.6 641.6,1642.7 642.2,1639.8 642.8,1643.9 643.4,1641.2 644,1643.4 644.6,1641.4 645.2,1642.9 645.8,1640.3 646.4,1643.9 647,1640 647.6,1643.4 648.2,1637.1 648.8,1642.4 649.4,1641 650,1643.3 650.6,1641 651.2,1643.7 651.9,1639.7 652.5,1642.6 653.1,1641.1 653.7,1642.4 654.3,1641.1 654.9,1642.3 655.5,1640.9 656.1,1643.3 656.7,1640.9 657.3,1642.5 657.9,1640.7 658.5,1643.6 659.1,1639.9 659.7,1643.1 660.3,1641.3 660.9,1638.9 661.5,1641.5 662.1,1642.7 662.7,1641 663.3,1643.4 663.9,1640.8 664.5,1643.6 665.1,1641.3 665.7,1642.3 666.3,1640.3 666.9,1642.7 667.5,1641.4 668.1,1642.8 668.7,1640.1 669.3,1642.7 669.9,1640.4 670.5,1644 671.1,1640.7 671.7,1640.5 672.3,1640.9 672.9,1644 673.5,1640.9 674.1,1643.9 674.7,1641.4 675.3,1643.1 675.9,1641.1 676.5,1642.8 677.1,1640.3 677.7,1643.4 678.3,1639.8 678.9,1642.9 679.5,1637.8 680.1,1641.6 680.7,1641.4 681.3,1642.4 681.9,1639.8 682.5,1643.4 683.1,1641.2 683.8,1642.4 684.4,1640.4 685,1644.1 685.6,1640.2 686.2,1643.4 686.8,1640.1 687.4,1642.7 688,1640.3 688.6,1642.3 689.2,1640.3 689.8,1642.7 690.4,1641.2 691,1643.4 691.6,1640.8 692.2,1643 692.8,1641.4 693.4,1642.9 694,1641.2 694.6,1642.5 695.2,1641.3 695.8,1642.5 696.4,1640.1 697,1643.6 697.6,1640 698.2,1643.9 698.8,1641.4 699.4,1643.2 700,1642 700.6,1638 701.2,1643.2 701.8,1641 702.4,1642.4 703,1639.9 703.6,1643.5 704.2,1641.1 704.8,1642.5 705.4,1639.7 706,1643 706.6,1641 707.2,1642 707.8,1640.7 708.4,1642.4 709,1640.4 709.6,1642.2 710.2,1640 710.8,1642.8 711.4,1640.4 712,1641.6 712.6,1640.4 713.2,1641.5 713.8,1636.9 714.4,1642.6 715,1639.5 715.6,1642.2 716.2,1638.4 716.8,1641.9 717.4,1639.6 718,1640.8 718.6,1639.7 719.2,1641.6 719.8,1638.5 720.4,1641.2 721,1638.6 721.6,1642.1 722.2,1639.1 722.8,1640.8 723.4,1638.2 724,1641.9 724.6,1639.1 725.2,1641 725.8,1638.1 726.4,1640.2 727,1638.1 727.6,1640.8 728.2,1637.8 728.8,1639.9 729.4,1638.2 730,1640 730.6,1638 731.2,1636.4 731.8,1638 732.4,1640.5 733,1636.8 733.6,1640.1 734.2,1637.4 734.8,1640.6 735.4,1637.6 736,1640.6 736.6,1637.7 737.2,1639.1 737.8,1637 738.4,1639.5 739,1637.2 739.6,1640.5 740.2,1636.4 740.8,1640 741.4,1636.9 742,1637.6 742.6,1637 743.2,1638.4 743.8,1636 744.4,1639.6 745,1637 745.6,1638.4 746.2,1635.5 746.8,1639.5 747.4,1635.6 748,1639.9 748.6,1635.7 749.2,1639.3 749.8,1636.9 750.4,1639.1 751,1636.7 751.6,1639.5 752.2,1636.4 752.8,1637.7 753.4,1635.6 754,1637 754.6,1638 755.2,1635.7 755.8,1638 756.5,1636.2 757.1,1639.3 757.7,1637.4 758.3,1640.7 758.9,1637.4 759.5,1640.3 760.2,1638.9 760.8,1640.7 761.4,1637.8 762,1640.4 762.6,1639.8 763.2,1641 763.8,1640 764.5,1642.7 765.1,1640.1 765.7,1643.4 766.3,1639.7 766.9,1643.5 767.5,1640.1 768.2,1643.7 768.8,1642.1 769.4,1644.3 770,1643 770.6,1642.5 771.2,1644.5 771.8,1640.8 772.4,1643.6 773,1640.8 773.6,1644.6 774.2,1642.4 774.8,1644.8 775.4,1642.1 776,1643.3 776.6,1641.2 777.2,1644.1 777.8,1641.5 778.4,1645 779,1642.1 779.6,1643.3 780.2,1641.7 780.8,1644.1 781.4,1641.2 782,1644.7 782.6,1641.7 783.2,1644.3 783.8,1641.2 784.4,1640.6 785,1641 785.6,1640.3 786.2,1641 786.8,1644.3 787.4,1641.2 788,1643.1 788.6,1641.2 789.2,1643.9 789.8,1641.5 790.4,1643.5 791,1641.5 791.6,1643.8 792.2,1641.1 792.8,1643.2 793.4,1641 794,1643.8 794.6,1641.3 795.2,1643.6 795.8,1641 796.4,1643.7 797,1640.2 797.6,1643.1 798.2,1641 798.8,1644.4 799.4,1640.1 800,1644.1 800.6,1640.3 801.2,1643.4 801.8,1640.7 802.4,1644.3 803,1641.5 803.6,1643.7 804.2,1640.8 804.8,1643.3 805.4,1640.2 806,1644.3 806.6,1637.4 807.2,1643.8 807.8,1641.3 808.4,1643.6 809,1641.3 809.6,1642.7 810.2,1640.9 810.8,1643.6 811.4,1641.5 812.1,1642.9 812.7,1640.7 813.3,1643.8 813.9,1640 814.5,1642.8 815.1,1638 815.7,1642.5 816.3,1640.6 816.9,1643.8 817.5,1640.8 818.1,1643.1 818.7,1640.8 819.3,1643.3 819.9,1639.7 820.5,1643 821.1,1640.3 821.7,1642.9 822.3,1640.3 822.9,1643.6 823.5,1639.9 824.1,1643.3 824.7,1639.6 825.3,1642.8 825.9,1639.8 826.5,1643.2 827.1,1641.2 827.7,1642.7 828.3,1640.4 828.9,1643 829.5,1639.7 830.1,1643.7 830.7,1640.9 831.3,1642.2 831.9,1639.8 832.5,1643.1 833.1,1640.3 833.7,1643.5 834.3,1639.4 834.9,1642.9 835.5,1640.8 836.1,1642 836.7,1639.5 837.3,1643.6 837.9,1639.6 838.5,1642.7 839.1,1639.8 839.7,1642.8 840.3,1639.3 840.9,1643.1 841.5,1640.8 842.1,1642.5 842.7,1639.3 843.3,1642.9 843.9,1640.5 844.5,1641.7 845.1,1640.8 845.7,1642.6 846.3,1637.8 846.9,1641.6 847.5,1640.8 848.1,1642.2 848.7,1639.7 849.3,1641.5 849.9,1639.3 850.5,1643.2 851.1,1640.2 851.7,1643 852.3,1638.9 852.9,1643.2 853.5,1639.6 854.1,1641.8 854.7,1639 855.3,1641.6 855.9,1640.6 856.5,1642.1 857.1,1639.7 857.7,1642.5 858.3,1640.2 858.9,1641.8 859.5,1639.6 860.1,1642.4 860.7,1639.5 861.3,1641.7 861.9,1640.3 862.5,1642.2 863.1,1639.8 863.7,1641.6 864.3,1639.2 864.9,1641.7 865.5,1638.5 866.1,1642.3 866.7,1640.3 867.3,1642 867.9,1638.4 868.5,1642.8 869.1,1639.5 869.7,1641 870.3,1639.4 870.9,1641.5 871.5,1639.2 872.1,1641.7 872.7,1638.7 873.3,1642.4 873.9,1639.3 874.5,1641.8 875.1,1639.9 875.7,1641.6 876.3,1639.8 876.9,1641.4 877.5,1639.1 878.1,1642.4 878.7,1639.6 879.3,1640.8 879.9,1638.4 880.5,1641.7 881.1,1638.8 881.7,1640.7 882.3,1639.2 882.9,1642.1 883.5,1638.2 884.1,1642.2 884.7,1638.3 885.3,1642.4 885.9,1639.5 886.5,1641.9 887.1,1639.3 887.7,1641.1 888.3,1639.7 888.9,1640.7 889.5,1637.4 890.1,1642.1 890.7,1638.5 891.3,1641.6 891.9,1639 892.5,1641.5 893.1,1639.6 893.7,1641.5 894.3,1638.2 894.9,1640.7 895.6,1638.3 896.2,1640.6 896.8,1639.1 897.4,1641.6 898,1638.5 898.6,1639.7 899.2,1637.9 899.8,1642.1 900.4,1638.8 901,1640.5 901.6,1637.6 902.2,1641.5 902.8,1638.7 903.4,1640.7 904,1638.6 904.6,1641.3 905.2,1637.8 905.8,1641.9 906.4,1639.2 907,1640.3 907.6,1638.3 908.2,1641 908.8,1637.5 909.4,1640.4 910,1637.6 910.6,1641.7 911.2,1637.7 911.8,1641.5 912.4,1638.4 913,1641.7 913.6,1638.8 914.2,1641.6 914.8,1637.5 915.4,1640 916,1638.4 916.6,1640.4 917.2,1638.1 917.8,1640.7 918.4,1639 919,1640 919.6,1638.3 920.2,1639.9 920.8,1637.5 921.4,1640.6 922,1637.6 922.6,1641.5 923.2,1638.8 923.8,1640.1 924.4,1637.5 925,1640.8 925.6,1638.5 926.2,1640.1 926.8,1637.5 927.4,1637.5 928,1638.2 928.6,1639.8 929.2,1636.9 929.8,1640.3 930.4,1638.8 931,1640.1 931.6,1638.3 932.2,1641 932.8,1638.1 933.4,1640 934,1636.8 934.6,1640.6 935.2,1638.2 935.8,1639.7 936.4,1637 937,1639 937.6,1641.3 938.2,1637.8 938.9,1640.4 939.5,1638.7 940.1,1640.7 940.7,1639.1 941.3,1641.3 942,1638.8 942.6,1641.7 943.2,1638.8 943.8,1643.2 944.4,1640.1 945,1642.7 945.7,1640.4 946.3,1643 946.9,1638.6 947.5,1642.7 948.1,1641.5 948.8,1644.7 949.4,1642.1 950,1643 950.6,1644.6 951.2,1641.7 951.8,1644 952.4,1641.5 953,1644.8 953.6,1640.6 954.2,1643.8 954.8,1640.9 955.4,1644.4 956,1642.1 956.6,1643.4 957.2,1640.7 957.8,1643.3 958.4,1640.7 959,1643.6 959.6,1640.2 960.2,1643 960.8,1640.1 961.4,1644 962.1,1640.1 962.7,1642.6 963.3,1639.8 963.9,1643.8 964.5,1641.4 965.1,1642.9 965.7,1641.3 966.3,1643 966.9,1638.6 967.5,1643.7 968.1,1639.4 968.7,1643.4 969.3,1640.7 969.9,1641.8 970.5,1640.3 971.1,1643 971.7,1640.4 972.3,1641.6 972.9,1639.8 973.5,1642.1 974.1,1639.2 974.7,1642.2 975.3,1638.8 975.9,1642.5 976.5,1639.3 977.1,1641.4 977.7,1639 978.3,1641.1 978.9,1639 979.5,1641 980.1,1638.6 980.7,1641.1 981.3,1639.2 981.9,1641 982.5,1638.1 983.1,1640.8 983.7,1639.1 984.3,1640.8 984.9,1638.2 985.6,1641.5 986.2,1638.5 986.8,1641.2 987.4,1635 988,1640.7 988.6,1638 989.2,1641 989.8,1638.8 990.4,1641.4 991,1635.8 991.6,1640 992.2,1638.2 992.8,1640.4 993.4,1638.1 994,1641 994.6,1637.2 995.2,1641 995.8,1637.2 996.4,1639.6 997,1639 997.6,1637.2 998.2,1640.2 998.9,1637.7 999.5,1641.2 1000.1,1639.5 1000.7,1642.5 1001.3,1639.3 1002,1642.9 1002.6,1639.9 1003.2,1643 1003.8,1639.5 1004.4,1643.4 1005,1641.3 1005.7,1644.5 1006.3,1640.4 1006.9,1643.8 1007.5,1641 1008.1,1644.4 1008.8,1638.9 1009.4,1644.6 1010,1644 1010.6,1643.1 1011.2,1645.3 1011.8,1642.2 1012.4,1643.8 1013,1643.2 1013.6,1645.9 1014.3,1641.4 1014.9,1645.4 1015.5,1642.4 1016.1,1644.6 1016.7,1642.6 1017.3,1640.6 1017.9,1642.8 1018.5,1644.4 1019.1,1642.5 1019.7,1644.8 1020.3,1643.7 1020.9,1646 1021.6,1641.9 1022.2,1645.8 1022.8,1642.8 1023.4,1646.1 1024,1643 1024.6,1645.9 1025.2,1642.4 1025.8,1644.7 1026.4,1643.4 1027,1645.4 1027.6,1641.9 1028.2,1644.6 1028.9,1643.5 1029.5,1646.1 1030.1,1641.8 1030.7,1645.4 1031.3,1642 1031.9,1644.7 1032.5,1644" fill="none" stroke="#000" stroke-width="2.3" stroke-linejoin="round" opacity="1.0"/>
<g fill="#111">
<polygon points="160.3,204.1 162,209.4 167.1,209.6 163.1,213 164.5,218.4 160.3,215.2 156.1,218.4 157.5,213 153.5,209.6 158.6,209.4"/>
<polygon points="207.6,93.7 209.3,99 214.4,99.2 210.4,102.6 211.8,108 207.6,104.8 203.4,108 204.8,102.6 200.8,99.2 205.9,99"/>
<polygon points="220.6,193 222.3,198.3 227.4,198.5 223.4,201.9 224.8,207.3 220.6,204.1 216.4,207.3 217.8,201.9 213.8,198.5 218.9,198.3"/>
<polygon points="261.4,129 263.1,134.3 268.2,134.5 264.2,137.9 265.6,143.3 261.4,140.1 257.2,143.3 258.6,137.9 254.6,134.5 259.7,134.3"/>
<polygon points="305.8,197.4 307.5,202.7 312.6,202.9 308.6,206.3 310,211.7 305.8,208.5 301.6,211.7 303,206.3 299,202.9 304.1,202.7"/>
<polygon points="320.6,241 322.3,246.3 327.4,246.5 323.4,249.9 324.8,255.3 320.6,252.1 316.4,255.3 317.8,249.9 313.8,246.5 318.9,246.3"/>
<polygon points="339.7,239.2 341.4,244.5 346.5,244.7 342.5,248.1 343.9,253.5 339.7,250.3 335.5,253.5 336.9,248.1 332.9,244.7 338,244.5"/>
<polygon points="401.3,270.7 403,276 408.1,276.2 404.1,279.6 405.5,285 401.3,281.8 397.1,285 398.5,279.6 394.5,276.2 399.6,276"/>
<polygon points="443.6,268.8 445.3,274.1 450.4,274.3 446.4,277.7 447.8,283.1 443.6,279.9 439.4,283.1 440.8,277.7 436.8,274.3 441.9,274.1"/>
<polygon points="460.7,257.7 462.4,263 467.5,263.2 463.5,266.6 464.9,272 460.7,268.8 456.5,272 457.9,266.6 453.9,263.2 459,263"/>
<polygon points="476.5,265.1 478.2,270.4 483.3,270.6 479.3,274 480.7,279.4 476.5,276.2 472.3,279.4 473.7,274 469.7,270.6 474.8,270.4"/>
<polygon points="497.8,255 499.5,260.3 504.6,260.5 500.6,263.9 502,269.3 497.8,266.1 493.6,269.3 495,263.9 491,260.5 496.1,260.3"/>
<polygon points="540.7,272.4 542.4,277.7 547.5,277.9 543.5,281.3 544.9,286.7 540.7,283.5 536.5,286.7 537.9,281.3 533.9,277.9 539,277.7"/>
<polygon points="588.3,264.3 590,269.6 595.1,269.8 591.1,273.2 592.5,278.6 588.3,275.4 584.1,278.6 585.5,273.2 581.5,269.8 586.6,269.6"/>
<polygon points="604.5,269 606.2,274.3 611.3,274.5 607.3,277.9 608.7,283.3 604.5,280.1 600.3,283.3 601.7,277.9 597.7,274.5 602.8,274.3"/>
<polygon points="697.3,269 699,274.3 704.1,274.5 700.1,277.9 701.5,283.3 697.3,280.1 693.1,283.3 694.5,277.9 690.5,274.5 695.6,274.3"/>
<polygon points="147.9,1168.9 149.6,1174.2 154.7,1174.4 150.7,1177.8 152.1,1183.2 147.9,1180 143.7,1183.2 145.1,1177.8 141.1,1174.4 146.2,1174.2"/>
<polygon points="194.3,1033.5 196,1038.8 201.1,1039 197.1,1042.4 198.5,1047.8 194.3,1044.6 190.1,1047.8 191.5,1042.4 187.5,1039 192.6,1038.8"/>
<polygon points="205.4,1138.3 207.1,1143.6 212.2,1143.8 208.2,1147.2 209.6,1152.6 205.4,1149.4 201.2,1152.6 202.6,1147.2 198.6,1143.8 203.7,1143.6"/>
<polygon points="251.8,1110.5 253.5,1115.8 258.6,1116 254.6,1119.4 256,1124.8 251.8,1121.6 247.6,1124.8 249,1119.4 245,1116 250.1,1115.8"/>
<polygon points="294.8,1160.2 296.5,1165.5 301.6,1165.7 297.6,1169.1 299,1174.5 294.8,1171.3 290.6,1174.5 292,1169.1 288,1165.7 293.1,1165.5"/>
<polygon points="309.7,1192.7 311.4,1198 316.5,1198.2 312.5,1201.6 313.9,1207 309.7,1203.8 305.5,1207 306.9,1201.6 302.9,1198.2 308,1198"/>
<polygon points="326.4,1185.3 328.1,1190.6 333.2,1190.8 329.2,1194.2 330.6,1199.6 326.4,1196.4 322.2,1199.6 323.6,1194.2 319.6,1190.8 324.7,1190.6"/>
<polygon points="387.6,1204.7 389.3,1210 394.4,1210.2 390.4,1213.6 391.8,1219 387.6,1215.8 383.4,1219 384.8,1213.6 380.8,1210.2 385.9,1210"/>
<polygon points="447.9,1199.2 449.6,1204.5 454.7,1204.7 450.7,1208.1 452.1,1213.5 447.9,1210.3 443.7,1213.5 445.1,1208.1 441.1,1204.7 446.2,1204.5"/>
<polygon points="485,1196.7 486.7,1202 491.8,1202.2 487.8,1205.6 489.2,1211 485,1207.8 480.8,1211 482.2,1205.6 478.2,1202.2 483.3,1202"/>
<polygon points="526.8,1205 528.5,1210.3 533.6,1210.5 529.6,1213.9 531,1219.3 526.8,1216.1 522.6,1219.3 524,1213.9 520,1210.5 525.1,1210.3"/>
<polygon points="588,1204.5 589.7,1209.8 594.8,1210 590.8,1213.4 592.2,1218.8 588,1215.6 583.8,1218.8 585.2,1213.4 581.2,1210 586.3,1209.8"/>
<polygon points="365.6,117.7 367.3,123 372.4,123.2 368.4,126.6 369.8,132 365.6,128.8 361.4,132 362.8,126.6 358.8,123.2 363.9,123"/>
<polygon points="257.8,1008.4 259.5,1013.7 264.6,1013.9 260.6,1017.3 262,1022.7 257.8,1019.5 253.6,1022.7 255,1017.3 251,1013.9 256.1,1013.7"/>
</g>
</svg>
</body></html>
